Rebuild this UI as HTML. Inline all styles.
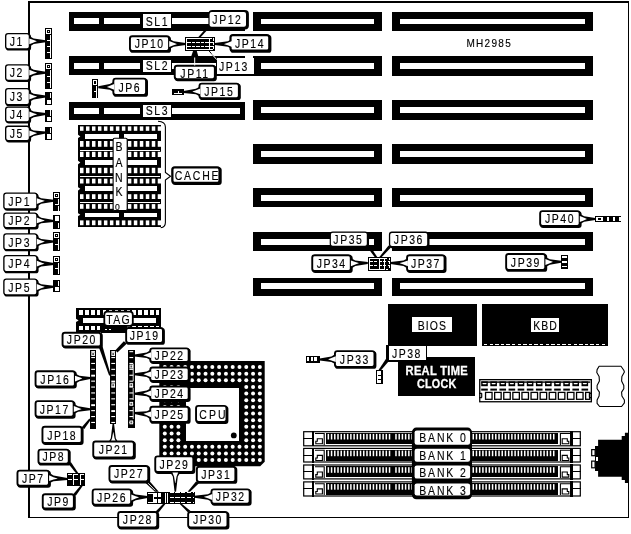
<!DOCTYPE html>
<html><head><meta charset="utf-8"><title>MH2985</title>
<style>
html,body{margin:0;padding:0;background:#fff;}
body{width:631px;height:534px;overflow:hidden;}
svg{display:block;font-family:"Liberation Sans",sans-serif;filter:grayscale(1);}
svg rect{shape-rendering:crispEdges;}
svg .aa{shape-rendering:geometricPrecision;}

</style></head><body>
<svg width="631" height="534" viewBox="0 0 631 534">
<rect x="0" y="0" width="631" height="534" fill="#fff"/>
<rect x="28.3" y="1.3" width="1.5" height="516.7" fill="#000" />
<rect x="28.3" y="1.3" width="600.3" height="1.4" fill="#000" />
<rect x="627.6" y="1.3" width="1.1" height="516.7" fill="#000" />
<rect x="28.3" y="516.6" width="600.4" height="1.5" fill="#000" />
<rect x="253.3" y="11.9" width="128.7" height="18.799999999999997" fill="#000" />
<rect x="260.6" y="18.8" width="113.5" height="5.399999999999999" fill="#fff" />
<rect x="392" y="11.9" width="201" height="18.799999999999997" fill="#000" />
<rect x="400" y="18.8" width="185" height="5.399999999999999" fill="#fff" />
<rect x="253.3" y="56" width="128.7" height="19.799999999999997" fill="#000" />
<rect x="260.6" y="62.9" width="113.5" height="6.399999999999999" fill="#fff" />
<rect x="392" y="56" width="201" height="19.799999999999997" fill="#000" />
<rect x="400" y="62.9" width="185" height="6.399999999999999" fill="#fff" />
<rect x="253.3" y="100.1" width="128.7" height="19.700000000000003" fill="#000" />
<rect x="260.6" y="106.8" width="113.5" height="6.200000000000003" fill="#fff" />
<rect x="392" y="100.1" width="201" height="19.700000000000003" fill="#000" />
<rect x="400" y="106.8" width="185" height="6.200000000000003" fill="#fff" />
<rect x="253.3" y="144.1" width="128.7" height="19.599999999999994" fill="#000" />
<rect x="260.6" y="150.5" width="113.5" height="6.400000000000006" fill="#fff" />
<rect x="392" y="144.1" width="201" height="19.599999999999994" fill="#000" />
<rect x="400" y="150.5" width="185" height="6.400000000000006" fill="#fff" />
<rect x="253.3" y="188" width="128.7" height="18.80000000000001" fill="#000" />
<rect x="260.6" y="195.1" width="113.5" height="5.599999999999994" fill="#fff" />
<rect x="392" y="188" width="201" height="18.80000000000001" fill="#000" />
<rect x="400" y="195.1" width="185" height="5.599999999999994" fill="#fff" />
<rect x="253.3" y="232.1" width="128.7" height="19.30000000000001" fill="#000" />
<rect x="260.6" y="238.9" width="113.5" height="6.400000000000006" fill="#fff" />
<rect x="392" y="232.1" width="201" height="19.30000000000001" fill="#000" />
<rect x="400" y="238.9" width="185" height="6.400000000000006" fill="#fff" />
<rect x="253.3" y="277.5" width="128.7" height="18.19999999999999" fill="#000" />
<rect x="260.6" y="283.1" width="113.5" height="6.199999999999989" fill="#fff" />
<rect x="392" y="277.5" width="201" height="18.19999999999999" fill="#000" />
<rect x="400" y="283.1" width="185" height="6.199999999999989" fill="#fff" />
<rect x="69.1" y="12.2" width="175.8" height="18.6" fill="#000" />
<rect x="74" y="18.1" width="25" height="6.0" fill="#fff" />
<rect x="103.8" y="18.1" width="36.6" height="6.0" fill="#fff" />
<rect x="172" y="18.1" width="68.2" height="6.0" fill="#fff" />
<rect x="142.8" y="14.2" width="28" height="13.600000000000001" fill="#fff" />
<text transform="translate(157.37,25.50) scale(0.77,1)" font-size="13.6" text-anchor="middle" letter-spacing="2.0" fill="#000" stroke="#000" stroke-width="0.15" font-weight="normal">SL1</text>
<rect x="69.1" y="56.3" width="175.8" height="18.400000000000006" fill="#000" />
<rect x="74" y="63.1" width="25" height="5.899999999999999" fill="#fff" />
<rect x="103.8" y="63.1" width="36.6" height="5.899999999999999" fill="#fff" />
<rect x="172" y="63.1" width="68.2" height="5.899999999999999" fill="#fff" />
<rect x="142.8" y="59.5" width="28" height="12.400000000000006" fill="#fff" />
<text transform="translate(157.37,70.30) scale(0.77,1)" font-size="13.6" text-anchor="middle" letter-spacing="2.0" fill="#000" stroke="#000" stroke-width="0.15" font-weight="normal">SL2</text>
<rect x="69.1" y="102" width="175.8" height="18.400000000000006" fill="#000" />
<rect x="74" y="108.1" width="25" height="6.0" fill="#fff" />
<rect x="103.8" y="108.1" width="36.6" height="6.0" fill="#fff" />
<rect x="172" y="108.1" width="68.2" height="6.0" fill="#fff" />
<rect x="142.8" y="104.5" width="28" height="12.700000000000003" fill="#fff" />
<text transform="translate(157.37,114.80) scale(0.77,1)" font-size="13.6" text-anchor="middle" letter-spacing="2.0" fill="#000" stroke="#000" stroke-width="0.15" font-weight="normal">SL3</text>
<text transform="translate(489.24,46.90) scale(0.85,1)" font-size="11.8" text-anchor="middle" letter-spacing="1.5" fill="#000" stroke="#000" stroke-width="0.15" font-weight="normal">MH2985</text>
<rect class="aa" x="6" y="34" width="25.1" height="16.6" rx="2.9" fill="#000"/>
<rect class="aa" x="5.675" y="33.675" width="23.75" height="15.250000000000002" rx="2.4" fill="#fff" stroke="#000" stroke-width="1.35"/>
<text transform="translate(16.82,46.06) scale(0.77,1)" font-size="13.6" text-anchor="middle" letter-spacing="2.0" fill="#000" stroke="#000" stroke-width="0.15" font-weight="normal">J1</text>
<polygon class="aa" fill="#000" points="30.50,36.70 33.70,38.48 45.70,40.20 45.70,42.20 33.70,44.08 30.50,45.90"/>
<polygon class="aa" fill="#fff" points="29.30,38.40 33.70,40.08 36.88,41.16 36.88,41.36 33.70,42.48 29.30,44.20"/>
<rect x="45.2" y="28" width="6.6" height="30.6" fill="#000" />
<rect x="46.2" y="29.0" width="4.6" height="4.62" fill="#fff" />
<rect x="47.2" y="30.0" width="2.5999999999999996" height="2.62" fill="#000" />
<rect x="48.2" y="31.0" width="0.5999999999999996" height="0.6200000000000001" fill="#fff" />
<rect x="49.6" y="34.919999999999995" width="1.2" height="4.92" fill="#fff" />
<rect x="47.2" y="39.739999999999995" width="3.3999999999999995" height="1.0" fill="#fff" />
<rect x="49.6" y="41.04" width="1.2" height="4.92" fill="#fff" />
<rect x="47.2" y="45.86" width="3.3999999999999995" height="1.0" fill="#fff" />
<rect x="49.6" y="47.16" width="1.2" height="4.92" fill="#fff" />
<rect x="47.2" y="51.98" width="3.3999999999999995" height="1.0" fill="#fff" />
<rect x="49.6" y="53.28" width="1.2" height="4.92" fill="#fff" />
<rect class="aa" x="6" y="65.2" width="25.1" height="16.799999999999997" rx="2.9" fill="#000"/>
<rect class="aa" x="5.675" y="64.875" width="23.75" height="15.449999999999998" rx="2.4" fill="#fff" stroke="#000" stroke-width="1.35"/>
<text transform="translate(16.82,77.36) scale(0.77,1)" font-size="13.6" text-anchor="middle" letter-spacing="2.0" fill="#000" stroke="#000" stroke-width="0.15" font-weight="normal">J2</text>
<polygon class="aa" fill="#000" points="30.50,68.00 33.70,69.84 45.70,71.80 45.70,73.80 33.70,75.44 30.50,77.20"/>
<polygon class="aa" fill="#fff" points="29.30,69.70 33.70,71.44 36.88,72.58 36.88,72.78 33.70,73.84 29.30,75.50"/>
<rect x="45.2" y="63.3" width="6.6" height="25.400000000000006" fill="#000" />
<rect x="46.2" y="64.3" width="4.6" height="4.850000000000001" fill="#fff" />
<rect x="47.2" y="65.3" width="2.5999999999999996" height="2.8500000000000014" fill="#000" />
<rect x="48.2" y="66.3" width="0.5999999999999996" height="0.8500000000000014" fill="#fff" />
<rect x="49.6" y="70.45" width="1.2" height="5.150000000000001" fill="#fff" />
<rect x="47.2" y="75.5" width="3.3999999999999995" height="1.0" fill="#fff" />
<rect x="49.6" y="76.8" width="1.2" height="5.150000000000001" fill="#fff" />
<rect x="47.2" y="81.85" width="3.3999999999999995" height="1.0" fill="#fff" />
<rect x="49.6" y="83.14999999999999" width="1.2" height="5.150000000000001" fill="#fff" />
<rect class="aa" x="6" y="89" width="25.1" height="17.299999999999997" rx="2.9" fill="#000"/>
<rect class="aa" x="5.675" y="88.675" width="23.75" height="15.949999999999998" rx="2.4" fill="#fff" stroke="#000" stroke-width="1.35"/>
<text transform="translate(16.82,101.41) scale(0.77,1)" font-size="13.6" text-anchor="middle" letter-spacing="2.0" fill="#000" stroke="#000" stroke-width="0.15" font-weight="normal">J3</text>
<polygon class="aa" fill="#000" points="30.50,92.05 33.70,93.84 45.70,95.60 45.70,97.60 33.70,99.44 30.50,101.25"/>
<polygon class="aa" fill="#fff" points="29.30,93.75 33.70,95.44 36.88,96.53 36.88,96.73 33.70,97.84 29.30,99.55"/>
<rect x="45.2" y="92.4" width="6.6" height="12.699999999999989" fill="#000" />
<rect x="49.6" y="93.2" width="1.2" height="5.149999999999994" fill="#fff" />
<rect x="47.2" y="99.75" width="3.5999999999999996" height="4.349999999999994" fill="#fff" />
<rect class="aa" x="6" y="107.5" width="25.1" height="16.0" rx="2.9" fill="#000"/>
<rect class="aa" x="5.675" y="107.175" width="23.75" height="14.65" rx="2.4" fill="#fff" stroke="#000" stroke-width="1.35"/>
<text transform="translate(16.82,119.26) scale(0.77,1)" font-size="13.6" text-anchor="middle" letter-spacing="2.0" fill="#000" stroke="#000" stroke-width="0.15" font-weight="normal">J4</text>
<polygon class="aa" fill="#000" points="30.50,109.90 33.70,111.62 45.70,113.10 45.70,115.10 33.70,117.22 30.50,119.10"/>
<polygon class="aa" fill="#fff" points="29.30,111.60 33.70,113.22 36.88,114.23 36.88,114.43 33.70,115.62 29.30,117.40"/>
<rect x="45.2" y="109.6" width="6.6" height="12.700000000000003" fill="#000" />
<rect x="49.6" y="110.39999999999999" width="1.2" height="5.150000000000001" fill="#fff" />
<rect x="47.2" y="116.94999999999999" width="3.5999999999999996" height="4.350000000000001" fill="#fff" />
<rect class="aa" x="6" y="126.6" width="25.1" height="15.800000000000011" rx="2.9" fill="#000"/>
<rect class="aa" x="5.675" y="126.27499999999999" width="23.75" height="14.450000000000012" rx="2.4" fill="#fff" stroke="#000" stroke-width="1.35"/>
<text transform="translate(16.82,138.26) scale(0.77,1)" font-size="13.6" text-anchor="middle" letter-spacing="2.0" fill="#000" stroke="#000" stroke-width="0.15" font-weight="normal">J5</text>
<polygon class="aa" fill="#000" points="30.50,128.90 33.70,130.49 45.70,131.50 45.70,133.50 33.70,136.09 30.50,138.10"/>
<polygon class="aa" fill="#fff" points="29.30,130.60 33.70,132.09 36.88,132.98 36.88,133.18 33.70,134.49 29.30,136.40"/>
<rect x="45.2" y="127.1" width="6.6" height="12.400000000000006" fill="#000" />
<rect x="49.6" y="127.89999999999999" width="1.2" height="5.000000000000003" fill="#fff" />
<rect x="47.2" y="134.3" width="3.5999999999999996" height="4.200000000000003" fill="#fff" />
<rect class="aa" x="4.2" y="193.4" width="34.4" height="17.299999999999983" rx="2.9" fill="#000"/>
<rect class="aa" x="3.875" y="193.07500000000002" width="33.05" height="15.949999999999983" rx="2.4" fill="#fff" stroke="#000" stroke-width="1.35"/>
<text transform="translate(19.67,205.81) scale(0.77,1)" font-size="13.6" text-anchor="middle" letter-spacing="2.0" fill="#000" stroke="#000" stroke-width="0.15" font-weight="normal">JP1</text>
<polygon class="aa" fill="#000" points="38.00,196.45 41.20,198.18 53.70,199.70 53.70,201.70 41.20,203.78 38.00,205.65"/>
<polygon class="aa" fill="#fff" points="36.80,198.15 41.20,199.78 44.59,200.80 44.59,201.00 41.20,202.18 36.80,203.95"/>
<rect x="53.2" y="192.3" width="6.6" height="18.599999999999994" fill="#000" />
<rect x="54.2" y="193.3" width="4.6" height="4.699999999999998" fill="#fff" />
<rect x="55.2" y="194.3" width="2.5999999999999996" height="2.6999999999999984" fill="#000" />
<rect x="56.2" y="195.3" width="0.5999999999999996" height="0.6999999999999984" fill="#fff" />
<rect x="57.6" y="199.3" width="1.2" height="4.999999999999998" fill="#fff" />
<rect x="55.2" y="204.2" width="3.3999999999999995" height="1.0" fill="#fff" />
<rect x="57.6" y="205.50000000000003" width="1.2" height="4.999999999999998" fill="#fff" />
<rect class="aa" x="4.2" y="213.4" width="34.4" height="16.0" rx="2.9" fill="#000"/>
<rect class="aa" x="3.875" y="213.07500000000002" width="33.05" height="14.65" rx="2.4" fill="#fff" stroke="#000" stroke-width="1.35"/>
<text transform="translate(19.67,225.16) scale(0.77,1)" font-size="13.6" text-anchor="middle" letter-spacing="2.0" fill="#000" stroke="#000" stroke-width="0.15" font-weight="normal">JP2</text>
<polygon class="aa" fill="#000" points="38.00,215.80 41.20,217.72 53.70,220.00 53.70,222.00 41.20,223.32 38.00,225.00"/>
<polygon class="aa" fill="#fff" points="36.80,217.50 41.20,219.32 44.59,220.55 44.59,220.75 41.20,221.72 36.80,223.30"/>
<rect x="53.2" y="215.2" width="6.6" height="13.5" fill="#000" />
<rect x="55.2" y="216.2" width="3.5999999999999996" height="4.75" fill="#fff" />
<rect x="57.6" y="222.75" width="1.2" height="5.55" fill="#fff" />
<rect class="aa" x="4.2" y="234.2" width="34.4" height="17.100000000000023" rx="2.9" fill="#000"/>
<rect class="aa" x="3.875" y="233.875" width="33.05" height="15.750000000000023" rx="2.4" fill="#fff" stroke="#000" stroke-width="1.35"/>
<text transform="translate(19.67,246.51) scale(0.77,1)" font-size="13.6" text-anchor="middle" letter-spacing="2.0" fill="#000" stroke="#000" stroke-width="0.15" font-weight="normal">JP3</text>
<polygon class="aa" fill="#000" points="38.00,237.15 41.20,238.88 53.70,240.40 53.70,242.40 41.20,244.48 38.00,246.35"/>
<polygon class="aa" fill="#fff" points="36.80,238.85 41.20,240.48 44.59,241.50 44.59,241.70 41.20,242.88 36.80,244.65"/>
<rect x="53.2" y="232.4" width="6.6" height="18.099999999999994" fill="#000" />
<rect x="54.2" y="233.4" width="4.6" height="4.533333333333331" fill="#fff" />
<rect x="55.2" y="234.4" width="2.5999999999999996" height="2.5333333333333314" fill="#000" />
<rect x="56.2" y="235.4" width="0.5999999999999996" height="0.5333333333333314" fill="#fff" />
<rect x="57.6" y="239.23333333333335" width="1.2" height="4.833333333333331" fill="#fff" />
<rect x="55.2" y="243.96666666666667" width="3.3999999999999995" height="1.0" fill="#fff" />
<rect x="57.6" y="245.26666666666668" width="1.2" height="4.833333333333331" fill="#fff" />
<rect class="aa" x="4.2" y="255.9" width="34.4" height="17.400000000000006" rx="2.9" fill="#000"/>
<rect class="aa" x="3.875" y="255.57500000000002" width="33.05" height="16.050000000000004" rx="2.4" fill="#fff" stroke="#000" stroke-width="1.35"/>
<text transform="translate(19.67,268.36) scale(0.77,1)" font-size="13.6" text-anchor="middle" letter-spacing="2.0" fill="#000" stroke="#000" stroke-width="0.15" font-weight="normal">JP4</text>
<polygon class="aa" fill="#000" points="38.00,259.00 41.20,260.86 53.70,262.90 53.70,264.90 41.20,266.46 38.00,268.20"/>
<polygon class="aa" fill="#fff" points="36.80,260.70 41.20,262.46 44.59,263.63 44.59,263.83 41.20,264.86 36.80,266.50"/>
<rect x="53.2" y="256.2" width="6.6" height="18.400000000000034" fill="#000" />
<rect x="54.2" y="257.2" width="4.6" height="4.633333333333344" fill="#fff" />
<rect x="55.2" y="258.2" width="2.5999999999999996" height="2.6333333333333444" fill="#000" />
<rect x="56.2" y="259.2" width="0.5999999999999996" height="0.6333333333333444" fill="#fff" />
<rect x="57.6" y="263.1333333333333" width="1.2" height="4.933333333333344" fill="#fff" />
<rect x="55.2" y="267.96666666666664" width="3.3999999999999995" height="1.0" fill="#fff" />
<rect x="57.6" y="269.2666666666667" width="1.2" height="4.933333333333344" fill="#fff" />
<rect class="aa" x="4.2" y="279.4" width="34.4" height="17.200000000000045" rx="2.9" fill="#000"/>
<rect class="aa" x="3.875" y="279.075" width="33.05" height="15.850000000000046" rx="2.4" fill="#fff" stroke="#000" stroke-width="1.35"/>
<text transform="translate(19.67,291.76) scale(0.77,1)" font-size="13.6" text-anchor="middle" letter-spacing="2.0" fill="#000" stroke="#000" stroke-width="0.15" font-weight="normal">JP5</text>
<polygon class="aa" fill="#000" points="38.00,282.40 41.20,284.16 53.70,285.80 53.70,287.80 41.20,289.76 38.00,291.60"/>
<polygon class="aa" fill="#fff" points="36.80,284.10 41.20,285.76 44.59,286.82 44.59,287.02 41.20,288.16 36.80,289.90"/>
<rect x="53.2" y="280" width="6.6" height="12.399999999999977" fill="#000" />
<rect x="57.6" y="280.8" width="1.2" height="4.9999999999999885" fill="#fff" />
<rect x="55.2" y="287.2" width="3.5999999999999996" height="4.199999999999989" fill="#fff" />
<rect class="aa" x="113.4" y="78.7" width="34.599999999999994" height="18.099999999999994" rx="2.9" fill="#000"/>
<rect class="aa" x="113.35000000000001" y="78.65" width="32.699999999999996" height="16.199999999999996" rx="2.4" fill="#fff" stroke="#000" stroke-width="1.9"/>
<text transform="translate(129.87,91.51) scale(0.77,1)" font-size="13.6" text-anchor="middle" letter-spacing="2.0" fill="#000" stroke="#000" stroke-width="0.15" font-weight="normal">JP6</text>
<polygon class="aa" fill="#000" points="113.00,82.20 109.80,84.11 98.30,86.30 98.30,88.30 109.80,89.71 113.00,91.40"/>
<polygon class="aa" fill="#fff" points="114.20,83.90 109.80,85.71 106.83,86.91 106.83,87.11 109.80,88.11 114.20,89.70"/>
<rect x="92" y="79" width="6.2" height="18.900000000000006" fill="#000" />
<rect x="93" y="80.0" width="4.2" height="4.800000000000002" fill="#fff" />
<rect x="94" y="81.0" width="2.2" height="2.8000000000000016" fill="#000" />
<rect x="95" y="82.0" width="0.20000000000000018" height="0.8000000000000016" fill="#fff" />
<rect x="96.0" y="86.1" width="1.2" height="5.100000000000001" fill="#fff" />
<rect x="94" y="91.1" width="3.0" height="1.0" fill="#fff" />
<rect x="96.0" y="92.4" width="1.2" height="5.100000000000001" fill="#fff" />
<polygon class="aa" fill="#000"  points="208.00,26.00 211.00,26.00 200.60,37.30 198.20,37.30"/>
<line x1="208.5" y1="50.3" x2="217.5" y2="60.5" stroke="#000" stroke-width="1.0" class="aa"/>
<polygon class="aa" fill="#000"  points="193.30,50.30 196.60,50.30 198.50,57.00 191.00,57.00"/>
<rect x="185.4" y="37.1" width="29.599999999999994" height="13.5" fill="#000" />
<rect x="186.9" y="38.6" width="22.099999999999994" height="10.5" fill="none" stroke="#fff" stroke-width="1"/>
<line x1="187.4" y1="42.0" x2="214" y2="42.0" stroke="#fff" stroke-width="1" stroke-dasharray="3.2,1.3" shape-rendering="crispEdges"/>
<line x1="187.4" y1="46.1" x2="214" y2="46.1" stroke="#fff" stroke-width="1" stroke-dasharray="3.2,1.3" shape-rendering="crispEdges"/>
<path d="M209,38.6 H213.5 V49.1 H209" fill="none" stroke="#fff" stroke-width="1" stroke-dasharray="2.5,1.5" shape-rendering="crispEdges"/>
<rect class="aa" x="130" y="36.3" width="41" height="16.5" rx="2.9" fill="#000"/>
<rect class="aa" x="129.95" y="36.25" width="39.1" height="14.6" rx="2.4" fill="#fff" stroke="#000" stroke-width="1.9"/>
<text transform="translate(149.67,48.31) scale(0.77,1)" font-size="13.6" text-anchor="middle" letter-spacing="2.0" fill="#000" stroke="#000" stroke-width="0.15" font-weight="normal">JP10</text>
<polygon class="aa" fill="#000" points="170.40,39.40 173.60,41.22 185.60,43.10 185.60,45.10 173.60,46.82 170.40,48.60"/>
<polygon class="aa" fill="#fff" points="169.20,41.10 173.60,42.82 176.78,43.94 176.78,44.14 173.60,45.22 169.20,46.90"/>
<rect class="aa" x="230.4" y="35" width="40.99999999999997" height="17.799999999999997" rx="2.9" fill="#000"/>
<rect class="aa" x="230.5" y="35.1" width="38.79999999999997" height="15.599999999999998" rx="2.4" fill="#fff" stroke="#000" stroke-width="2.2"/>
<text transform="translate(250.07,47.66) scale(0.77,1)" font-size="13.6" text-anchor="middle" letter-spacing="2.0" fill="#000" stroke="#000" stroke-width="0.15" font-weight="normal">JP14</text>
<polygon class="aa" fill="#000" points="231.00,39.40 227.80,41.22 214.80,43.10 214.80,45.10 227.80,46.82 231.00,48.60"/>
<polygon class="aa" fill="#fff" points="232.20,41.10 227.80,42.82 224.20,43.94 224.20,44.14 227.80,45.22 232.20,46.90"/>
<rect class="aa" x="208.4" y="10.1" width="40.5" height="19.4" rx="4" fill="#000"/>
<rect class="aa" x="209.6" y="12" width="36.4" height="14.7" rx="2" fill="#fff"/>
<text transform="translate(227.37,24.00) scale(0.77,1)" font-size="13.6" text-anchor="middle" letter-spacing="2.0" fill="#000" stroke="#000" stroke-width="0.15" font-weight="normal">JP12</text>
<rect x="216" y="57.8" width="38" height="18.2" fill="#000" />
<rect x="217" y="57.8" width="37" height="16" fill="#fff" />
<text transform="translate(233.97,71.20) scale(0.77,1)" font-size="13.6" text-anchor="middle" letter-spacing="2.0" fill="#000" stroke="#000" stroke-width="0.15" font-weight="normal">JP13</text>
<line x1="211.5" y1="53.7" x2="216.8" y2="59.7" stroke="#fff" stroke-width="1.0" class="aa"/>
<rect class="aa" x="174.8" y="65.8" width="42.0" height="15.400000000000006" rx="2.9" fill="#000"/>
<rect class="aa" x="174.75" y="65.75" width="40.1" height="13.500000000000005" rx="2.4" fill="#fff" stroke="#000" stroke-width="1.9"/>
<text transform="translate(194.97,78.30) scale(0.77,1)" font-size="13.6" text-anchor="middle" letter-spacing="2.0" fill="#000" stroke="#000" stroke-width="0.15" font-weight="normal">JP11</text>
<line x1="194.7" y1="57.5" x2="194.7" y2="65.5" stroke="#fff" stroke-width="1.0" class=""/>
<rect class="aa" x="199.5" y="83.7" width="41.30000000000001" height="16.39999999999999" rx="2.9" fill="#000"/>
<rect class="aa" x="199.45" y="83.65" width="39.40000000000001" height="14.499999999999991" rx="2.4" fill="#fff" stroke="#000" stroke-width="1.9"/>
<text transform="translate(219.32,95.66) scale(0.77,1)" font-size="13.6" text-anchor="middle" letter-spacing="2.0" fill="#000" stroke="#000" stroke-width="0.15" font-weight="normal">JP15</text>
<polygon class="aa" fill="#000" points="199.10,86.90 195.90,88.72 183.50,91.00 183.50,93.00 195.90,94.32 199.10,95.90"/>
<polygon class="aa" fill="#fff" points="200.30,88.60 195.90,90.32 192.55,91.55 192.55,91.75 195.90,92.72 200.30,94.20"/>
<rect x="172" y="89" width="11.8" height="6.2" fill="#000" />
<rect x="174" y="93.2" width="8" height="1" fill="#fff" />
<rect x="178" y="90.5" width="1" height="2.8" fill="#fff" />
<rect x="78" y="124.8" width="83.19999999999999" height="101.89999999999999" fill="#000" />
<rect class="aa" x="80.00" y="126.4" width="3.5" height="4.4" fill="#fff"/>
<rect class="aa" x="85.98" y="126.4" width="3.5" height="4.4" fill="#fff"/>
<rect class="aa" x="91.96" y="126.4" width="3.5" height="4.4" fill="#fff"/>
<rect class="aa" x="97.94" y="126.4" width="3.5" height="4.4" fill="#fff"/>
<rect class="aa" x="103.92" y="126.4" width="3.5" height="4.4" fill="#fff"/>
<rect class="aa" x="109.90" y="126.4" width="3.5" height="4.4" fill="#fff"/>
<rect class="aa" x="115.88" y="126.4" width="3.5" height="4.4" fill="#fff"/>
<rect class="aa" x="121.86" y="126.4" width="3.5" height="4.4" fill="#fff"/>
<rect class="aa" x="127.84" y="126.4" width="3.5" height="4.4" fill="#fff"/>
<rect class="aa" x="133.82" y="126.4" width="3.5" height="4.4" fill="#fff"/>
<rect class="aa" x="139.80" y="126.4" width="3.5" height="4.4" fill="#fff"/>
<rect class="aa" x="145.78" y="126.4" width="3.5" height="4.4" fill="#fff"/>
<rect class="aa" x="151.76" y="126.4" width="3.5" height="4.4" fill="#fff"/>
<rect class="aa" x="157.74" y="126.4" width="3.5" height="4.4" fill="#fff"/>
<rect class="aa" x="80.00" y="141" width="3.5" height="5.8" fill="#fff"/>
<rect class="aa" x="85.98" y="141" width="3.5" height="5.8" fill="#fff"/>
<rect class="aa" x="91.96" y="141" width="3.5" height="5.8" fill="#fff"/>
<rect class="aa" x="97.94" y="141" width="3.5" height="5.8" fill="#fff"/>
<rect class="aa" x="103.92" y="141" width="3.5" height="5.8" fill="#fff"/>
<rect class="aa" x="109.90" y="141" width="3.5" height="5.8" fill="#fff"/>
<rect class="aa" x="115.88" y="141" width="3.5" height="5.8" fill="#fff"/>
<rect class="aa" x="121.86" y="141" width="3.5" height="5.8" fill="#fff"/>
<rect class="aa" x="127.84" y="141" width="3.5" height="5.8" fill="#fff"/>
<rect class="aa" x="133.82" y="141" width="3.5" height="5.8" fill="#fff"/>
<rect class="aa" x="139.80" y="141" width="3.5" height="5.8" fill="#fff"/>
<rect class="aa" x="145.78" y="141" width="3.5" height="5.8" fill="#fff"/>
<rect class="aa" x="151.76" y="141" width="3.5" height="5.8" fill="#fff"/>
<rect class="aa" x="157.74" y="141" width="3.5" height="5.8" fill="#fff"/>
<rect x="84.7" y="134" width="72.49999999999999" height="4.8" fill="#fff" />
<rect x="119" y="134" width="4.6" height="4.8" fill="#000" />
<polygon class="aa" fill="#fff"  points="77.80,134.60 80.30,136.40 77.80,138.20"/>
<rect x="79.5" y="149.5" width="80.19999999999999" height="1" fill="#fff" />
<rect class="aa" x="80.00" y="151.8" width="3.5" height="5.2" fill="#fff"/>
<rect class="aa" x="85.98" y="151.8" width="3.5" height="5.2" fill="#fff"/>
<rect class="aa" x="91.96" y="151.8" width="3.5" height="5.2" fill="#fff"/>
<rect class="aa" x="97.94" y="151.8" width="3.5" height="5.2" fill="#fff"/>
<rect class="aa" x="103.92" y="151.8" width="3.5" height="5.2" fill="#fff"/>
<rect class="aa" x="109.90" y="151.8" width="3.5" height="5.2" fill="#fff"/>
<rect class="aa" x="115.88" y="151.8" width="3.5" height="5.2" fill="#fff"/>
<rect class="aa" x="121.86" y="151.8" width="3.5" height="5.2" fill="#fff"/>
<rect class="aa" x="127.84" y="151.8" width="3.5" height="5.2" fill="#fff"/>
<rect class="aa" x="133.82" y="151.8" width="3.5" height="5.2" fill="#fff"/>
<rect class="aa" x="139.80" y="151.8" width="3.5" height="5.2" fill="#fff"/>
<rect class="aa" x="145.78" y="151.8" width="3.5" height="5.2" fill="#fff"/>
<rect class="aa" x="151.76" y="151.8" width="3.5" height="5.2" fill="#fff"/>
<rect class="aa" x="157.74" y="151.8" width="3.5" height="5.2" fill="#fff"/>
<rect class="aa" x="80.00" y="167.8" width="3.5" height="5.4" fill="#fff"/>
<rect class="aa" x="85.98" y="167.8" width="3.5" height="5.4" fill="#fff"/>
<rect class="aa" x="91.96" y="167.8" width="3.5" height="5.4" fill="#fff"/>
<rect class="aa" x="97.94" y="167.8" width="3.5" height="5.4" fill="#fff"/>
<rect class="aa" x="103.92" y="167.8" width="3.5" height="5.4" fill="#fff"/>
<rect class="aa" x="109.90" y="167.8" width="3.5" height="5.4" fill="#fff"/>
<rect class="aa" x="115.88" y="167.8" width="3.5" height="5.4" fill="#fff"/>
<rect class="aa" x="121.86" y="167.8" width="3.5" height="5.4" fill="#fff"/>
<rect class="aa" x="127.84" y="167.8" width="3.5" height="5.4" fill="#fff"/>
<rect class="aa" x="133.82" y="167.8" width="3.5" height="5.4" fill="#fff"/>
<rect class="aa" x="139.80" y="167.8" width="3.5" height="5.4" fill="#fff"/>
<rect class="aa" x="145.78" y="167.8" width="3.5" height="5.4" fill="#fff"/>
<rect class="aa" x="151.76" y="167.8" width="3.5" height="5.4" fill="#fff"/>
<rect class="aa" x="157.74" y="167.8" width="3.5" height="5.4" fill="#fff"/>
<rect x="84.7" y="160" width="72.49999999999999" height="5" fill="#fff" />
<rect x="119" y="160" width="4.6" height="5" fill="#000" />
<polygon class="aa" fill="#fff"  points="77.80,160.60 80.30,162.50 77.80,164.40"/>
<rect x="79.5" y="176.0" width="80.19999999999999" height="1" fill="#fff" />
<rect class="aa" x="80.00" y="178.7" width="3.5" height="4.8" fill="#fff"/>
<rect class="aa" x="85.98" y="178.7" width="3.5" height="4.8" fill="#fff"/>
<rect class="aa" x="91.96" y="178.7" width="3.5" height="4.8" fill="#fff"/>
<rect class="aa" x="97.94" y="178.7" width="3.5" height="4.8" fill="#fff"/>
<rect class="aa" x="103.92" y="178.7" width="3.5" height="4.8" fill="#fff"/>
<rect class="aa" x="109.90" y="178.7" width="3.5" height="4.8" fill="#fff"/>
<rect class="aa" x="115.88" y="178.7" width="3.5" height="4.8" fill="#fff"/>
<rect class="aa" x="121.86" y="178.7" width="3.5" height="4.8" fill="#fff"/>
<rect class="aa" x="127.84" y="178.7" width="3.5" height="4.8" fill="#fff"/>
<rect class="aa" x="133.82" y="178.7" width="3.5" height="4.8" fill="#fff"/>
<rect class="aa" x="139.80" y="178.7" width="3.5" height="4.8" fill="#fff"/>
<rect class="aa" x="145.78" y="178.7" width="3.5" height="4.8" fill="#fff"/>
<rect class="aa" x="151.76" y="178.7" width="3.5" height="4.8" fill="#fff"/>
<rect class="aa" x="157.74" y="178.7" width="3.5" height="4.8" fill="#fff"/>
<rect class="aa" x="80.00" y="194.2" width="3.5" height="4.8" fill="#fff"/>
<rect class="aa" x="85.98" y="194.2" width="3.5" height="4.8" fill="#fff"/>
<rect class="aa" x="91.96" y="194.2" width="3.5" height="4.8" fill="#fff"/>
<rect class="aa" x="97.94" y="194.2" width="3.5" height="4.8" fill="#fff"/>
<rect class="aa" x="103.92" y="194.2" width="3.5" height="4.8" fill="#fff"/>
<rect class="aa" x="109.90" y="194.2" width="3.5" height="4.8" fill="#fff"/>
<rect class="aa" x="115.88" y="194.2" width="3.5" height="4.8" fill="#fff"/>
<rect class="aa" x="121.86" y="194.2" width="3.5" height="4.8" fill="#fff"/>
<rect class="aa" x="127.84" y="194.2" width="3.5" height="4.8" fill="#fff"/>
<rect class="aa" x="133.82" y="194.2" width="3.5" height="4.8" fill="#fff"/>
<rect class="aa" x="139.80" y="194.2" width="3.5" height="4.8" fill="#fff"/>
<rect class="aa" x="145.78" y="194.2" width="3.5" height="4.8" fill="#fff"/>
<rect class="aa" x="151.76" y="194.2" width="3.5" height="4.8" fill="#fff"/>
<rect class="aa" x="157.74" y="194.2" width="3.5" height="4.8" fill="#fff"/>
<rect x="84.7" y="186.3" width="72.49999999999999" height="5.0" fill="#fff" />
<rect x="119" y="186.3" width="4.6" height="5.0" fill="#000" />
<polygon class="aa" fill="#fff"  points="77.80,186.90 80.30,188.80 77.80,190.70"/>
<rect x="79.5" y="201.7" width="80.19999999999999" height="1" fill="#fff" />
<rect class="aa" x="80.00" y="204.1" width="3.5" height="4.7" fill="#fff"/>
<rect class="aa" x="85.98" y="204.1" width="3.5" height="4.7" fill="#fff"/>
<rect class="aa" x="91.96" y="204.1" width="3.5" height="4.7" fill="#fff"/>
<rect class="aa" x="97.94" y="204.1" width="3.5" height="4.7" fill="#fff"/>
<rect class="aa" x="103.92" y="204.1" width="3.5" height="4.7" fill="#fff"/>
<rect class="aa" x="109.90" y="204.1" width="3.5" height="4.7" fill="#fff"/>
<rect class="aa" x="115.88" y="204.1" width="3.5" height="4.7" fill="#fff"/>
<rect class="aa" x="121.86" y="204.1" width="3.5" height="4.7" fill="#fff"/>
<rect class="aa" x="127.84" y="204.1" width="3.5" height="4.7" fill="#fff"/>
<rect class="aa" x="133.82" y="204.1" width="3.5" height="4.7" fill="#fff"/>
<rect class="aa" x="139.80" y="204.1" width="3.5" height="4.7" fill="#fff"/>
<rect class="aa" x="145.78" y="204.1" width="3.5" height="4.7" fill="#fff"/>
<rect class="aa" x="151.76" y="204.1" width="3.5" height="4.7" fill="#fff"/>
<rect class="aa" x="157.74" y="204.1" width="3.5" height="4.7" fill="#fff"/>
<rect class="aa" x="80.00" y="220.4" width="3.5" height="4.8" fill="#fff"/>
<rect class="aa" x="85.98" y="220.4" width="3.5" height="4.8" fill="#fff"/>
<rect class="aa" x="91.96" y="220.4" width="3.5" height="4.8" fill="#fff"/>
<rect class="aa" x="97.94" y="220.4" width="3.5" height="4.8" fill="#fff"/>
<rect class="aa" x="103.92" y="220.4" width="3.5" height="4.8" fill="#fff"/>
<rect class="aa" x="109.90" y="220.4" width="3.5" height="4.8" fill="#fff"/>
<rect class="aa" x="115.88" y="220.4" width="3.5" height="4.8" fill="#fff"/>
<rect class="aa" x="121.86" y="220.4" width="3.5" height="4.8" fill="#fff"/>
<rect class="aa" x="127.84" y="220.4" width="3.5" height="4.8" fill="#fff"/>
<rect class="aa" x="133.82" y="220.4" width="3.5" height="4.8" fill="#fff"/>
<rect class="aa" x="139.80" y="220.4" width="3.5" height="4.8" fill="#fff"/>
<rect class="aa" x="145.78" y="220.4" width="3.5" height="4.8" fill="#fff"/>
<rect class="aa" x="151.76" y="220.4" width="3.5" height="4.8" fill="#fff"/>
<rect class="aa" x="157.74" y="220.4" width="3.5" height="4.8" fill="#fff"/>
<rect x="84.7" y="212.5" width="72.49999999999999" height="4.4" fill="#fff" />
<rect x="119" y="212.5" width="4.6" height="4.4" fill="#000" />
<polygon class="aa" fill="#fff"  points="77.80,213.10 80.30,214.70 77.80,216.30"/>
<rect class="aa" x="113.1" y="138.3" width="14.1" height="72.2" rx="1.5" fill="#fff" stroke="#000" stroke-width="1.1"/>
<text transform="translate(118.90,151.40) scale(0.85,1)" font-size="12.4" text-anchor="middle" letter-spacing="0" fill="#000" stroke="#000" stroke-width="0.15" font-weight="normal">B</text>
<text transform="translate(118.90,166.50) scale(0.85,1)" font-size="12.4" text-anchor="middle" letter-spacing="0" fill="#000" stroke="#000" stroke-width="0.15" font-weight="normal">A</text>
<text transform="translate(118.90,181.60) scale(0.85,1)" font-size="12.4" text-anchor="middle" letter-spacing="0" fill="#000" stroke="#000" stroke-width="0.15" font-weight="normal">N</text>
<text transform="translate(118.90,196.20) scale(0.85,1)" font-size="12.4" text-anchor="middle" letter-spacing="0" fill="#000" stroke="#000" stroke-width="0.15" font-weight="normal">K</text>
<text transform="translate(117.50,209.90) scale(0.9,1)" font-size="9.6" text-anchor="middle" letter-spacing="0" fill="#000" stroke="#000" stroke-width="0.15" font-weight="normal">0</text>
<path class="aa" d="M158,121.3 Q165.4,121.8 165.4,127 V172.5 L170.5,176.3 L165.4,180 V222.5 Q165.4,227 160.7,227.8" fill="none" stroke="#000" stroke-width="1.1"/>
<rect class="aa" x="172.2" y="167.2" width="49.5" height="17.80000000000001" rx="2.9" fill="#000"/>
<rect class="aa" x="172.35" y="167.35" width="47.2" height="15.50000000000001" rx="2.4" fill="#fff" stroke="#000" stroke-width="2.3"/>
<text transform="translate(197.49,179.86) scale(0.77,1)" font-size="13.6" text-anchor="middle" letter-spacing="2.3" fill="#000" stroke="#000" stroke-width="0.15" font-weight="normal">CACHE</text>
<rect x="76.2" y="308.2" width="84.8" height="23.30000000000001" fill="#000" />
<rect x="79.3" y="310.2" width="3.4" height="4.4" fill="#fff" />
<rect x="85.2" y="310.2" width="3.4" height="4.4" fill="#fff" />
<rect x="91.1" y="310.2" width="3.4" height="4.4" fill="#fff" />
<rect x="97.0" y="310.2" width="3.4" height="4.4" fill="#fff" />
<rect x="102.9" y="310.2" width="3.4" height="4.4" fill="#fff" />
<rect x="108.8" y="310.2" width="3.4" height="4.4" fill="#fff" />
<rect x="114.7" y="310.2" width="3.4" height="4.4" fill="#fff" />
<rect x="120.6" y="310.2" width="3.4" height="4.4" fill="#fff" />
<rect x="126.5" y="310.2" width="3.4" height="4.4" fill="#fff" />
<rect x="132.4" y="310.2" width="3.4" height="4.4" fill="#fff" />
<rect x="138.3" y="310.2" width="3.4" height="4.4" fill="#fff" />
<rect x="144.2" y="310.2" width="3.4" height="4.4" fill="#fff" />
<rect x="150.10000000000002" y="310.2" width="3.4" height="4.4" fill="#fff" />
<rect x="156.0" y="310.2" width="3.4" height="4.4" fill="#fff" />
<rect x="79.3" y="325.7" width="3.4" height="4.4" fill="#fff" />
<rect x="85.2" y="325.7" width="3.4" height="4.4" fill="#fff" />
<rect x="91.1" y="325.7" width="3.4" height="4.4" fill="#fff" />
<rect x="97.0" y="325.7" width="3.4" height="4.4" fill="#fff" />
<rect x="102.9" y="325.7" width="3.4" height="4.4" fill="#fff" />
<rect x="108.8" y="325.7" width="3.4" height="4.4" fill="#fff" />
<rect x="114.7" y="325.7" width="3.4" height="4.4" fill="#fff" />
<rect x="120.6" y="325.7" width="3.4" height="4.4" fill="#fff" />
<rect x="126.5" y="325.7" width="3.4" height="4.4" fill="#fff" />
<rect x="132.4" y="325.7" width="3.4" height="4.4" fill="#fff" />
<rect x="138.3" y="325.7" width="3.4" height="4.4" fill="#fff" />
<rect x="144.2" y="325.7" width="3.4" height="4.4" fill="#fff" />
<rect x="150.10000000000002" y="325.7" width="3.4" height="4.4" fill="#fff" />
<rect x="156.0" y="325.7" width="3.4" height="4.4" fill="#fff" />
<rect x="83.4" y="318" width="72.6" height="4.8" fill="#fff" />
<polygon class="aa" fill="#fff"  points="76.00,318.70 78.60,320.40 76.00,322.10"/>
<polygon class="" fill="#000"  points="159.30,360.90 264.70,360.90 264.70,461.70 260.20,466.20 159.30,466.20"/>
<rect x="186" y="388" width="52.599999999999994" height="53" fill="#fff" />
<circle class="aa" cx="164.80" cy="367.00" r="2.0" fill="#fff"/>
<circle class="aa" cx="164.80" cy="373.65" r="2.0" fill="#fff"/>
<circle class="aa" cx="164.80" cy="380.30" r="2.0" fill="#fff"/>
<circle class="aa" cx="164.80" cy="386.95" r="2.0" fill="#fff"/>
<circle class="aa" cx="164.80" cy="393.60" r="2.0" fill="#fff"/>
<circle class="aa" cx="164.80" cy="400.25" r="2.0" fill="#fff"/>
<circle class="aa" cx="164.80" cy="406.90" r="2.0" fill="#fff"/>
<circle class="aa" cx="164.80" cy="413.55" r="2.0" fill="#fff"/>
<circle class="aa" cx="164.80" cy="420.20" r="2.0" fill="#fff"/>
<circle class="aa" cx="164.80" cy="426.85" r="2.0" fill="#fff"/>
<circle class="aa" cx="164.80" cy="433.50" r="2.0" fill="#fff"/>
<circle class="aa" cx="164.80" cy="440.15" r="2.0" fill="#fff"/>
<circle class="aa" cx="164.80" cy="446.80" r="2.0" fill="#fff"/>
<circle class="aa" cx="164.80" cy="453.45" r="2.0" fill="#fff"/>
<circle class="aa" cx="164.80" cy="460.10" r="2.0" fill="#fff"/>
<circle class="aa" cx="171.59" cy="367.00" r="2.0" fill="#fff"/>
<circle class="aa" cx="171.59" cy="373.65" r="2.0" fill="#fff"/>
<circle class="aa" cx="171.59" cy="380.30" r="2.0" fill="#fff"/>
<circle class="aa" cx="171.59" cy="386.95" r="2.0" fill="#fff"/>
<circle class="aa" cx="171.59" cy="393.60" r="2.0" fill="#fff"/>
<circle class="aa" cx="171.59" cy="400.25" r="2.0" fill="#fff"/>
<circle class="aa" cx="171.59" cy="406.90" r="2.0" fill="#fff"/>
<circle class="aa" cx="171.59" cy="413.55" r="2.0" fill="#fff"/>
<circle class="aa" cx="171.59" cy="420.20" r="2.0" fill="#fff"/>
<circle class="aa" cx="171.59" cy="426.85" r="2.0" fill="#fff"/>
<circle class="aa" cx="171.59" cy="433.50" r="2.0" fill="#fff"/>
<circle class="aa" cx="171.59" cy="440.15" r="2.0" fill="#fff"/>
<circle class="aa" cx="171.59" cy="446.80" r="2.0" fill="#fff"/>
<circle class="aa" cx="171.59" cy="453.45" r="2.0" fill="#fff"/>
<circle class="aa" cx="171.59" cy="460.10" r="2.0" fill="#fff"/>
<circle class="aa" cx="178.38" cy="367.00" r="2.0" fill="#fff"/>
<circle class="aa" cx="178.38" cy="373.65" r="2.0" fill="#fff"/>
<circle class="aa" cx="178.38" cy="380.30" r="2.0" fill="#fff"/>
<circle class="aa" cx="178.38" cy="386.95" r="2.0" fill="#fff"/>
<circle class="aa" cx="178.38" cy="393.60" r="2.0" fill="#fff"/>
<circle class="aa" cx="178.38" cy="400.25" r="2.0" fill="#fff"/>
<circle class="aa" cx="178.38" cy="406.90" r="2.0" fill="#fff"/>
<circle class="aa" cx="178.38" cy="413.55" r="2.0" fill="#fff"/>
<circle class="aa" cx="178.38" cy="420.20" r="2.0" fill="#fff"/>
<circle class="aa" cx="178.38" cy="426.85" r="2.0" fill="#fff"/>
<circle class="aa" cx="178.38" cy="433.50" r="2.0" fill="#fff"/>
<circle class="aa" cx="178.38" cy="440.15" r="2.0" fill="#fff"/>
<circle class="aa" cx="178.38" cy="446.80" r="2.0" fill="#fff"/>
<circle class="aa" cx="178.38" cy="453.45" r="2.0" fill="#fff"/>
<circle class="aa" cx="178.38" cy="460.10" r="2.0" fill="#fff"/>
<circle class="aa" cx="185.17" cy="367.00" r="2.0" fill="#fff"/>
<circle class="aa" cx="185.17" cy="373.65" r="2.0" fill="#fff"/>
<circle class="aa" cx="185.17" cy="380.30" r="2.0" fill="#fff"/>
<circle class="aa" cx="185.17" cy="446.80" r="2.0" fill="#fff"/>
<circle class="aa" cx="185.17" cy="453.45" r="2.0" fill="#fff"/>
<circle class="aa" cx="185.17" cy="460.10" r="2.0" fill="#fff"/>
<circle class="aa" cx="191.96" cy="367.00" r="2.0" fill="#fff"/>
<circle class="aa" cx="191.96" cy="373.65" r="2.0" fill="#fff"/>
<circle class="aa" cx="191.96" cy="380.30" r="2.0" fill="#fff"/>
<circle class="aa" cx="191.96" cy="446.80" r="2.0" fill="#fff"/>
<circle class="aa" cx="191.96" cy="453.45" r="2.0" fill="#fff"/>
<circle class="aa" cx="191.96" cy="460.10" r="2.0" fill="#fff"/>
<circle class="aa" cx="198.75" cy="367.00" r="2.0" fill="#fff"/>
<circle class="aa" cx="198.75" cy="373.65" r="2.0" fill="#fff"/>
<circle class="aa" cx="198.75" cy="380.30" r="2.0" fill="#fff"/>
<circle class="aa" cx="198.75" cy="446.80" r="2.0" fill="#fff"/>
<circle class="aa" cx="198.75" cy="453.45" r="2.0" fill="#fff"/>
<circle class="aa" cx="198.75" cy="460.10" r="2.0" fill="#fff"/>
<circle class="aa" cx="205.54" cy="367.00" r="2.0" fill="#fff"/>
<circle class="aa" cx="205.54" cy="373.65" r="2.0" fill="#fff"/>
<circle class="aa" cx="205.54" cy="380.30" r="2.0" fill="#fff"/>
<circle class="aa" cx="205.54" cy="446.80" r="2.0" fill="#fff"/>
<circle class="aa" cx="205.54" cy="453.45" r="2.0" fill="#fff"/>
<circle class="aa" cx="205.54" cy="460.10" r="2.0" fill="#fff"/>
<circle class="aa" cx="212.33" cy="367.00" r="2.0" fill="#fff"/>
<circle class="aa" cx="212.33" cy="373.65" r="2.0" fill="#fff"/>
<circle class="aa" cx="212.33" cy="380.30" r="2.0" fill="#fff"/>
<circle class="aa" cx="212.33" cy="446.80" r="2.0" fill="#fff"/>
<circle class="aa" cx="212.33" cy="453.45" r="2.0" fill="#fff"/>
<circle class="aa" cx="212.33" cy="460.10" r="2.0" fill="#fff"/>
<circle class="aa" cx="219.12" cy="367.00" r="2.0" fill="#fff"/>
<circle class="aa" cx="219.12" cy="373.65" r="2.0" fill="#fff"/>
<circle class="aa" cx="219.12" cy="380.30" r="2.0" fill="#fff"/>
<circle class="aa" cx="219.12" cy="446.80" r="2.0" fill="#fff"/>
<circle class="aa" cx="219.12" cy="453.45" r="2.0" fill="#fff"/>
<circle class="aa" cx="219.12" cy="460.10" r="2.0" fill="#fff"/>
<circle class="aa" cx="225.91" cy="367.00" r="2.0" fill="#fff"/>
<circle class="aa" cx="225.91" cy="373.65" r="2.0" fill="#fff"/>
<circle class="aa" cx="225.91" cy="380.30" r="2.0" fill="#fff"/>
<circle class="aa" cx="225.91" cy="446.80" r="2.0" fill="#fff"/>
<circle class="aa" cx="225.91" cy="453.45" r="2.0" fill="#fff"/>
<circle class="aa" cx="225.91" cy="460.10" r="2.0" fill="#fff"/>
<circle class="aa" cx="232.70" cy="367.00" r="2.0" fill="#fff"/>
<circle class="aa" cx="232.70" cy="373.65" r="2.0" fill="#fff"/>
<circle class="aa" cx="232.70" cy="380.30" r="2.0" fill="#fff"/>
<circle class="aa" cx="232.70" cy="446.80" r="2.0" fill="#fff"/>
<circle class="aa" cx="232.70" cy="453.45" r="2.0" fill="#fff"/>
<circle class="aa" cx="232.70" cy="460.10" r="2.0" fill="#fff"/>
<circle class="aa" cx="239.49" cy="367.00" r="2.0" fill="#fff"/>
<circle class="aa" cx="239.49" cy="373.65" r="2.0" fill="#fff"/>
<circle class="aa" cx="239.49" cy="380.30" r="2.0" fill="#fff"/>
<circle class="aa" cx="239.49" cy="446.80" r="2.0" fill="#fff"/>
<circle class="aa" cx="239.49" cy="453.45" r="2.0" fill="#fff"/>
<circle class="aa" cx="239.49" cy="460.10" r="2.0" fill="#fff"/>
<circle class="aa" cx="246.28" cy="367.00" r="2.0" fill="#fff"/>
<circle class="aa" cx="246.28" cy="373.65" r="2.0" fill="#fff"/>
<circle class="aa" cx="246.28" cy="380.30" r="2.0" fill="#fff"/>
<circle class="aa" cx="246.28" cy="386.95" r="2.0" fill="#fff"/>
<circle class="aa" cx="246.28" cy="393.60" r="2.0" fill="#fff"/>
<circle class="aa" cx="246.28" cy="400.25" r="2.0" fill="#fff"/>
<circle class="aa" cx="246.28" cy="406.90" r="2.0" fill="#fff"/>
<circle class="aa" cx="246.28" cy="413.55" r="2.0" fill="#fff"/>
<circle class="aa" cx="246.28" cy="420.20" r="2.0" fill="#fff"/>
<circle class="aa" cx="246.28" cy="426.85" r="2.0" fill="#fff"/>
<circle class="aa" cx="246.28" cy="433.50" r="2.0" fill="#fff"/>
<circle class="aa" cx="246.28" cy="440.15" r="2.0" fill="#fff"/>
<circle class="aa" cx="246.28" cy="446.80" r="2.0" fill="#fff"/>
<circle class="aa" cx="246.28" cy="453.45" r="2.0" fill="#fff"/>
<circle class="aa" cx="246.28" cy="460.10" r="2.0" fill="#fff"/>
<circle class="aa" cx="253.07" cy="367.00" r="2.0" fill="#fff"/>
<circle class="aa" cx="253.07" cy="373.65" r="2.0" fill="#fff"/>
<circle class="aa" cx="253.07" cy="380.30" r="2.0" fill="#fff"/>
<circle class="aa" cx="253.07" cy="386.95" r="2.0" fill="#fff"/>
<circle class="aa" cx="253.07" cy="393.60" r="2.0" fill="#fff"/>
<circle class="aa" cx="253.07" cy="400.25" r="2.0" fill="#fff"/>
<circle class="aa" cx="253.07" cy="406.90" r="2.0" fill="#fff"/>
<circle class="aa" cx="253.07" cy="413.55" r="2.0" fill="#fff"/>
<circle class="aa" cx="253.07" cy="420.20" r="2.0" fill="#fff"/>
<circle class="aa" cx="253.07" cy="426.85" r="2.0" fill="#fff"/>
<circle class="aa" cx="253.07" cy="433.50" r="2.0" fill="#fff"/>
<circle class="aa" cx="253.07" cy="440.15" r="2.0" fill="#fff"/>
<circle class="aa" cx="253.07" cy="446.80" r="2.0" fill="#fff"/>
<circle class="aa" cx="253.07" cy="453.45" r="2.0" fill="#fff"/>
<circle class="aa" cx="253.07" cy="460.10" r="2.0" fill="#fff"/>
<circle class="aa" cx="259.86" cy="367.00" r="2.0" fill="#fff"/>
<circle class="aa" cx="259.86" cy="373.65" r="2.0" fill="#fff"/>
<circle class="aa" cx="259.86" cy="380.30" r="2.0" fill="#fff"/>
<circle class="aa" cx="259.86" cy="386.95" r="2.0" fill="#fff"/>
<circle class="aa" cx="259.86" cy="393.60" r="2.0" fill="#fff"/>
<circle class="aa" cx="259.86" cy="400.25" r="2.0" fill="#fff"/>
<circle class="aa" cx="259.86" cy="406.90" r="2.0" fill="#fff"/>
<circle class="aa" cx="259.86" cy="413.55" r="2.0" fill="#fff"/>
<circle class="aa" cx="259.86" cy="420.20" r="2.0" fill="#fff"/>
<circle class="aa" cx="259.86" cy="426.85" r="2.0" fill="#fff"/>
<circle class="aa" cx="259.86" cy="433.50" r="2.0" fill="#fff"/>
<circle class="aa" cx="259.86" cy="440.15" r="2.0" fill="#fff"/>
<circle class="aa" cx="259.86" cy="446.80" r="2.0" fill="#fff"/>
<circle class="aa" cx="259.86" cy="453.45" r="2.0" fill="#fff"/>
<circle class="aa" cx="259.86" cy="460.10" r="2.0" fill="#fff"/>
<circle class="aa" cx="233.8" cy="435.4" r="2.9" fill="#000"/>
<rect class="aa" x="196.1" y="405.9" width="32.30000000000001" height="18.0" rx="2.9" fill="#000"/>
<rect class="aa" x="196.04999999999998" y="405.84999999999997" width="30.400000000000013" height="16.1" rx="2.4" fill="#fff" stroke="#000" stroke-width="1.9"/>
<text transform="translate(213.48,418.66) scale(0.77,1)" font-size="13.6" text-anchor="middle" letter-spacing="2.8" fill="#000" stroke="#000" stroke-width="0.15" font-weight="normal">CPU</text>
<polygon class="aa" fill="#000"  points="98.60,346.50 102.60,346.50 110.90,375.50 109.10,375.50"/>
<polygon class="aa" fill="#000"  points="123.80,341.20 127.00,343.60 117.40,352.60 115.40,350.30"/>
<rect x="89.9" y="349.9" width="6.4" height="78.60000000000002" fill="#000" />
<rect class="aa" x="91.2" y="351.10" width="3.8000000000000003" height="1.1" fill="#fff"/>
<rect class="aa" x="91.2" y="357.00" width="3.8000000000000003" height="1.1" fill="#fff"/>
<rect class="aa" x="91.2" y="362.90" width="3.8000000000000003" height="1.1" fill="#fff"/>
<rect class="aa" x="91.2" y="368.80" width="3.8000000000000003" height="1.1" fill="#fff"/>
<rect class="aa" x="91.2" y="374.70" width="3.8000000000000003" height="1.9" fill="#fff"/>
<rect class="aa" x="91.2" y="380.60" width="3.8000000000000003" height="1.1" fill="#fff"/>
<rect class="aa" x="91.2" y="386.50" width="3.8000000000000003" height="1.1" fill="#fff"/>
<rect class="aa" x="91.2" y="392.40" width="3.8000000000000003" height="1.1" fill="#fff"/>
<rect class="aa" x="91.2" y="398.30" width="3.8000000000000003" height="1.1" fill="#fff"/>
<rect class="aa" x="91.2" y="404.20" width="3.8000000000000003" height="1.9" fill="#fff"/>
<rect class="aa" x="91.2" y="410.10" width="3.8000000000000003" height="1.1" fill="#fff"/>
<rect class="aa" x="91.2" y="416.00" width="3.8000000000000003" height="1.1" fill="#fff"/>
<rect class="aa" x="91.2" y="421.90" width="3.8000000000000003" height="1.1" fill="#fff"/>
<rect class="aa" x="91.30000000000001" y="352.20" width="3.6000000000000005" height="3.8" fill="#fff"/>
<rect class="aa" x="92.2" y="353.10" width="1.8000000000000007" height="2" fill="#555"/>
<rect x="110" y="349.9" width="6.4" height="74.0" fill="#000" />
<rect class="aa" x="111.3" y="351.10" width="3.8000000000000003" height="1.1" fill="#fff"/>
<rect class="aa" x="111.3" y="357.00" width="3.8000000000000003" height="1.1" fill="#fff"/>
<rect class="aa" x="111.3" y="362.90" width="3.8000000000000003" height="1.1" fill="#fff"/>
<rect class="aa" x="111.3" y="368.80" width="3.8000000000000003" height="1.1" fill="#fff"/>
<rect class="aa" x="111.3" y="374.70" width="3.8000000000000003" height="1.1" fill="#fff"/>
<rect class="aa" x="111.3" y="380.60" width="3.8000000000000003" height="1.9" fill="#fff"/>
<rect class="aa" x="111.3" y="386.50" width="3.8000000000000003" height="1.1" fill="#fff"/>
<rect class="aa" x="111.3" y="392.40" width="3.8000000000000003" height="1.1" fill="#fff"/>
<rect class="aa" x="111.3" y="398.30" width="3.8000000000000003" height="1.1" fill="#fff"/>
<rect class="aa" x="111.3" y="404.20" width="3.8000000000000003" height="1.1" fill="#fff"/>
<rect class="aa" x="111.3" y="410.10" width="3.8000000000000003" height="1.9" fill="#fff"/>
<rect class="aa" x="111.3" y="416.00" width="3.8000000000000003" height="1.1" fill="#fff"/>
<rect class="aa" x="111.3" y="421.90" width="3.8000000000000003" height="1.1" fill="#fff"/>
<rect class="aa" x="111.4" y="352.20" width="3.6000000000000005" height="3.8" fill="#fff"/>
<rect class="aa" x="112.3" y="353.10" width="1.8000000000000007" height="2" fill="#555"/>
<rect class="aa" x="111.4" y="383.30" width="3.6000000000000005" height="3.8" fill="#fff"/>
<rect class="aa" x="112.3" y="384.20" width="1.8000000000000007" height="2" fill="#555"/>
<rect x="128.1" y="349.9" width="6.4" height="78.5" fill="#000" />
<rect class="aa" x="129.4" y="351.10" width="3.8000000000000003" height="1.1" fill="#fff"/>
<rect class="aa" x="129.4" y="357.00" width="3.8000000000000003" height="1.1" fill="#fff"/>
<rect class="aa" x="129.4" y="362.90" width="3.8000000000000003" height="1.1" fill="#fff"/>
<rect class="aa" x="129.4" y="368.80" width="3.8000000000000003" height="1.1" fill="#fff"/>
<rect class="aa" x="129.4" y="374.70" width="3.8000000000000003" height="1.1" fill="#fff"/>
<rect class="aa" x="129.4" y="380.60" width="3.8000000000000003" height="1.1" fill="#fff"/>
<rect class="aa" x="129.4" y="386.50" width="3.8000000000000003" height="1.1" fill="#fff"/>
<rect class="aa" x="129.4" y="392.40" width="3.8000000000000003" height="1.1" fill="#fff"/>
<rect class="aa" x="129.4" y="398.30" width="3.8000000000000003" height="1.1" fill="#fff"/>
<rect class="aa" x="129.4" y="404.20" width="3.8000000000000003" height="1.1" fill="#fff"/>
<rect class="aa" x="129.4" y="410.10" width="3.8000000000000003" height="1.1" fill="#fff"/>
<rect class="aa" x="129.4" y="416.00" width="3.8000000000000003" height="1.1" fill="#fff"/>
<rect class="aa" x="129.4" y="421.90" width="3.8000000000000003" height="1.1" fill="#fff"/>
<rect class="aa" x="129.5" y="364.60" width="3.6000000000000005" height="3.8" fill="#fff"/>
<rect class="aa" x="130.4" y="365.50" width="1.8000000000000007" height="2" fill="#555"/>
<rect class="aa" x="129.5" y="383.20" width="3.6000000000000005" height="3.8" fill="#fff"/>
<rect class="aa" x="130.4" y="384.10" width="1.8000000000000007" height="2" fill="#555"/>
<rect class="aa" x="129.5" y="401.90" width="3.6000000000000005" height="3.8" fill="#fff"/>
<rect class="aa" x="130.4" y="402.80" width="1.8000000000000007" height="2" fill="#555"/>
<rect class="aa" x="129.5" y="420.50" width="3.6000000000000005" height="3.8" fill="#fff"/>
<rect class="aa" x="130.4" y="421.40" width="1.8000000000000007" height="2" fill="#555"/>
<path class="aa" d="M133.2,364 V381 M133.2,388 V400 M133.2,407 V419" stroke="#fff" stroke-width="0.8" fill="none"/>
<rect x="101" y="326" width="25" height="6.6" fill="#000" />
<rect x="104.5" y="329.2" width="2.4" height="1" fill="#fff" />
<rect x="108.5" y="329.2" width="2.4" height="1" fill="#fff" />
<rect class="aa" x="104.30000000000001" y="311.7" width="28.499999999999982" height="14.2" rx="3" fill="#fff" stroke="#000" stroke-width="1.8"/>
<text transform="translate(118.64,324.00) scale(0.77,1)" font-size="13.6" text-anchor="middle" letter-spacing="1.8" fill="#000" stroke="#000" stroke-width="0.15" font-weight="normal">TAG</text>
<rect class="aa" x="126.2" y="328.1" width="38.7" height="16.69999999999999" rx="2.9" fill="#000"/>
<rect class="aa" x="126.15" y="328.05" width="36.800000000000004" height="14.799999999999988" rx="2.4" fill="#fff" stroke="#000" stroke-width="1.9"/>
<text transform="translate(144.72,340.21) scale(0.77,1)" font-size="13.6" text-anchor="middle" letter-spacing="2.0" fill="#000" stroke="#000" stroke-width="0.15" font-weight="normal">JP19</text>
<rect class="aa" x="62.6" y="332.8" width="40.199999999999996" height="15.699999999999989" rx="2.9" fill="#000"/>
<rect class="aa" x="62.550000000000004" y="332.75" width="38.3" height="13.799999999999988" rx="2.4" fill="#fff" stroke="#000" stroke-width="1.9"/>
<text transform="translate(81.87,344.41) scale(0.77,1)" font-size="13.6" text-anchor="middle" letter-spacing="2.0" fill="#000" stroke="#000" stroke-width="0.15" font-weight="normal">JP20</text>
<rect class="aa" x="150.3" y="348.4" width="40.29999999999998" height="15.600000000000023" rx="2.9" fill="#000"/>
<rect class="aa" x="150.25" y="348.34999999999997" width="38.399999999999984" height="13.700000000000022" rx="2.4" fill="#fff" stroke="#000" stroke-width="1.9"/>
<text transform="translate(169.62,359.96) scale(0.77,1)" font-size="13.6" text-anchor="middle" letter-spacing="2.0" fill="#000" stroke="#000" stroke-width="0.15" font-weight="normal">JP22</text>
<polygon class="aa" fill="#000" points="149.90,350.60 146.70,352.48 134.40,354.60 134.40,356.60 146.70,358.08 149.90,359.80"/>
<polygon class="aa" fill="#fff" points="151.10,352.30 146.70,354.08 143.39,355.27 143.39,355.47 146.70,356.48 151.10,358.10"/>
<rect class="aa" x="150.3" y="367.6" width="40.29999999999998" height="15.399999999999977" rx="2.9" fill="#000"/>
<rect class="aa" x="150.25" y="367.55" width="38.399999999999984" height="13.499999999999977" rx="2.4" fill="#fff" stroke="#000" stroke-width="1.9"/>
<text transform="translate(169.62,379.06) scale(0.77,1)" font-size="13.6" text-anchor="middle" letter-spacing="2.0" fill="#000" stroke="#000" stroke-width="0.15" font-weight="normal">JP23</text>
<polygon class="aa" fill="#000" points="149.90,369.70 146.70,371.48 134.40,373.20 134.40,375.20 146.70,377.08 149.90,378.90"/>
<polygon class="aa" fill="#fff" points="151.10,371.40 146.70,373.08 143.39,374.16 143.39,374.36 146.70,375.48 151.10,377.20"/>
<rect class="aa" x="150.3" y="386.6" width="40.29999999999998" height="15.399999999999977" rx="2.9" fill="#000"/>
<rect class="aa" x="150.25" y="386.55" width="38.399999999999984" height="13.499999999999977" rx="2.4" fill="#fff" stroke="#000" stroke-width="1.9"/>
<text transform="translate(169.62,398.06) scale(0.77,1)" font-size="13.6" text-anchor="middle" letter-spacing="2.0" fill="#000" stroke="#000" stroke-width="0.15" font-weight="normal">JP24</text>
<polygon class="aa" fill="#000" points="149.90,388.70 146.70,390.58 134.40,392.70 134.40,394.70 146.70,396.18 149.90,397.90"/>
<polygon class="aa" fill="#fff" points="151.10,390.40 146.70,392.18 143.39,393.37 143.39,393.57 146.70,394.58 151.10,396.20"/>
<rect class="aa" x="150.3" y="406.8" width="40.29999999999998" height="17.0" rx="2.9" fill="#000"/>
<rect class="aa" x="150.25" y="406.75" width="38.399999999999984" height="15.1" rx="2.4" fill="#fff" stroke="#000" stroke-width="1.9"/>
<text transform="translate(169.62,419.06) scale(0.77,1)" font-size="13.6" text-anchor="middle" letter-spacing="2.0" fill="#000" stroke="#000" stroke-width="0.15" font-weight="normal">JP25</text>
<polygon class="aa" fill="#000" points="149.90,409.70 146.70,411.23 134.40,412.00 134.40,414.00 146.70,416.83 149.90,418.90"/>
<polygon class="aa" fill="#fff" points="151.10,411.40 146.70,412.83 143.39,413.65 143.39,413.85 146.70,415.23 151.10,417.20"/>
<rect class="aa" x="35.6" y="371.3" width="41.199999999999996" height="17.19999999999999" rx="2.9" fill="#000"/>
<rect class="aa" x="35.550000000000004" y="371.25" width="39.3" height="15.299999999999988" rx="2.4" fill="#fff" stroke="#000" stroke-width="1.9"/>
<text transform="translate(55.37,383.66) scale(0.77,1)" font-size="13.6" text-anchor="middle" letter-spacing="2.0" fill="#000" stroke="#000" stroke-width="0.15" font-weight="normal">JP16</text>
<polygon class="aa" fill="#000" points="76.20,374.00 79.40,375.66 90.20,377.00 90.20,379.00 79.40,381.26 76.20,383.20"/>
<polygon class="aa" fill="#fff" points="75.00,375.70 79.40,377.26 82.08,378.25 82.08,378.45 79.40,379.66 75.00,381.50"/>
<rect class="aa" x="35.6" y="401.2" width="39.99999999999999" height="17.5" rx="2.9" fill="#000"/>
<rect class="aa" x="35.550000000000004" y="401.15" width="38.099999999999994" height="15.6" rx="2.4" fill="#fff" stroke="#000" stroke-width="1.9"/>
<text transform="translate(54.77,413.71) scale(0.77,1)" font-size="13.6" text-anchor="middle" letter-spacing="2.0" fill="#000" stroke="#000" stroke-width="0.15" font-weight="normal">JP17</text>
<polygon class="aa" fill="#000" points="75.00,404.40 78.20,406.26 90.20,408.30 90.20,410.30 78.20,411.86 75.00,413.60"/>
<polygon class="aa" fill="#fff" points="73.80,406.10 78.20,407.86 81.38,409.03 81.38,409.23 78.20,410.26 73.80,411.90"/>
<polygon class="aa" fill="#000"  points="81.50,427.50 84.30,429.00 90.60,420.00 89.40,418.60"/>
<rect class="aa" x="42.5" y="426.8" width="41.099999999999994" height="18.19999999999999" rx="2.9" fill="#000"/>
<rect class="aa" x="42.45" y="426.75" width="39.199999999999996" height="16.29999999999999" rx="2.4" fill="#fff" stroke="#000" stroke-width="1.9"/>
<text transform="translate(62.22,439.66) scale(0.77,1)" font-size="13.6" text-anchor="middle" letter-spacing="2.0" fill="#000" stroke="#000" stroke-width="0.15" font-weight="normal">JP18</text>
<polygon class="aa" fill="#000"  points="108.90,441.40 110.80,438.20 112.55,423.70 114.05,423.70 115.80,438.20 117.70,441.40"/>
<polygon class="aa" fill="#fff"  points="110.40,442.40 112.05,438.20 113.15,432.20 113.45,432.20 114.55,438.20 116.20,442.40"/>
<rect class="aa" x="93.3" y="441.6" width="42.500000000000014" height="17.799999999999955" rx="2.9" fill="#000"/>
<rect class="aa" x="93.25" y="441.55" width="40.600000000000016" height="15.899999999999954" rx="2.4" fill="#fff" stroke="#000" stroke-width="1.9"/>
<text transform="translate(113.72,454.26) scale(0.77,1)" font-size="13.6" text-anchor="middle" letter-spacing="2.0" fill="#000" stroke="#000" stroke-width="0.15" font-weight="normal">JP21</text>
<polygon class="aa" fill="#000"  points="68.00,463.20 71.00,462.20 78.40,473.30 76.00,473.30"/>
<polygon class="aa" fill="#000"  points="73.00,494.60 75.80,495.80 83.00,485.40 80.60,485.40"/>
<rect class="aa" x="38.5" y="449.7" width="32.2" height="15.900000000000034" rx="2.9" fill="#000"/>
<rect class="aa" x="38.45" y="449.65" width="30.300000000000004" height="14.000000000000034" rx="2.4" fill="#fff" stroke="#000" stroke-width="1.9"/>
<text transform="translate(53.77,461.41) scale(0.77,1)" font-size="13.6" text-anchor="middle" letter-spacing="2.0" fill="#000" stroke="#000" stroke-width="0.15" font-weight="normal">JP8</text>
<rect class="aa" x="17.5" y="470.7" width="33.4" height="17.0" rx="2.9" fill="#000"/>
<rect class="aa" x="17.45" y="470.65" width="31.5" height="15.1" rx="2.4" fill="#fff" stroke="#000" stroke-width="1.9"/>
<text transform="translate(33.37,482.96) scale(0.77,1)" font-size="13.6" text-anchor="middle" letter-spacing="2.0" fill="#000" stroke="#000" stroke-width="0.15" font-weight="normal">JP7</text>
<polygon class="aa" fill="#000" points="50.30,473.60 53.50,475.55 67.40,478.00 67.40,480.00 53.50,481.15 50.30,482.80"/>
<polygon class="aa" fill="#fff" points="49.10,475.30 53.50,477.15 57.48,478.44 57.48,478.64 53.50,479.55 49.10,481.10"/>
<rect class="aa" x="42.8" y="494.3" width="33.0" height="16.19999999999999" rx="2.9" fill="#000"/>
<rect class="aa" x="42.75" y="494.25" width="31.1" height="14.299999999999988" rx="2.4" fill="#fff" stroke="#000" stroke-width="1.9"/>
<text transform="translate(58.47,506.16) scale(0.77,1)" font-size="13.6" text-anchor="middle" letter-spacing="2.0" fill="#000" stroke="#000" stroke-width="0.15" font-weight="normal">JP9</text>
<rect x="66.9" y="473.1" width="18.099999999999994" height="12.699999999999989" fill="#000" />
<rect x="68" y="474" width="4" height="1" fill="#fff" />
<rect x="73" y="474" width="5" height="1" fill="#fff" />
<rect x="80" y="474" width="4" height="1" fill="#fff" />
<rect x="68" y="479" width="4" height="1" fill="#fff" />
<rect x="73" y="479" width="5" height="1" fill="#fff" />
<rect x="80" y="479" width="4" height="1" fill="#fff" />
<rect x="73" y="474" width="1" height="11" fill="#fff" />
<rect x="80" y="474" width="1" height="11" fill="#fff" />
<polygon class="aa" fill="#000"  points="144.80,482.20 149.00,480.60 158.80,491.70 155.00,491.70"/>
<line x1="147.6" y1="482.6" x2="155.2" y2="490.4" stroke="#fff" stroke-width="0.9" class="aa"/>
<polygon class="aa" fill="#000"  points="155.40,511.80 158.20,513.00 165.40,504.00 163.00,504.00"/>
<polygon class="aa" fill="#000"  points="196.00,481.60 199.00,483.20 190.00,491.70 187.60,491.70"/>
<polygon class="aa" fill="#000"  points="187.80,512.20 190.60,511.00 182.00,504.00 179.80,504.00"/>
<rect x="147.3" y="491.5" width="47.29999999999998" height="12.800000000000011" fill="#000" />
<rect x="148.3" y="492.5" width="4.6" height="1" fill="#fff" />
<rect x="148.3" y="502.3" width="4.6" height="1" fill="#fff" />
<rect x="153.4" y="492.5" width="1" height="10.800000000000011" fill="#fff" />
<rect x="154.4" y="492.5" width="6.8" height="10.800000000000011" fill="#fff" />
<rect x="154.4" y="497.3" width="6.8" height="1.2" fill="#000" />
<rect x="157.3" y="492.5" width="1.1" height="10.800000000000011" fill="#000" />
<rect x="164.6" y="492.5" width="1" height="10.800000000000011" fill="#fff" />
<rect x="167.2" y="492.5" width="1" height="10.800000000000011" fill="#fff" />
<line x1="169.5" y1="492.8" x2="194" y2="492.8" stroke="#fff" stroke-width="1" stroke-dasharray="4.2,1.6" shape-rendering="crispEdges"/>
<line x1="169.5" y1="497.5" x2="194" y2="497.5" stroke="#fff" stroke-width="1" stroke-dasharray="4.2,1.6" shape-rendering="crispEdges"/>
<line x1="169.5" y1="502.8" x2="194" y2="502.8" stroke="#fff" stroke-width="1" stroke-dasharray="4.2,1.6" shape-rendering="crispEdges"/>
<rect class="aa" x="109.5" y="466" width="40.69999999999999" height="17.399999999999977" rx="2.9" fill="#000"/>
<rect class="aa" x="109.45" y="465.95" width="38.79999999999999" height="15.499999999999977" rx="2.4" fill="#fff" stroke="#000" stroke-width="1.9"/>
<text transform="translate(129.02,478.46) scale(0.77,1)" font-size="13.6" text-anchor="middle" letter-spacing="2.0" fill="#000" stroke="#000" stroke-width="0.15" font-weight="normal">JP27</text>
<rect class="aa" x="92.7" y="489.4" width="40.39999999999999" height="17.30000000000001" rx="2.9" fill="#000"/>
<rect class="aa" x="92.65" y="489.34999999999997" width="38.49999999999999" height="15.400000000000011" rx="2.4" fill="#fff" stroke="#000" stroke-width="1.9"/>
<text transform="translate(112.07,501.81) scale(0.77,1)" font-size="13.6" text-anchor="middle" letter-spacing="2.0" fill="#000" stroke="#000" stroke-width="0.15" font-weight="normal">JP26</text>
<polygon class="aa" fill="#000" points="132.50,492.90 135.70,494.59 147.50,496.00 147.50,498.00 135.70,500.19 132.50,502.10"/>
<polygon class="aa" fill="#fff" points="131.30,494.60 135.70,496.19 138.80,497.19 138.80,497.39 135.70,498.59 131.30,500.40"/>
<rect class="aa" x="118.2" y="512" width="40.999999999999986" height="17.399999999999977" rx="2.9" fill="#000"/>
<rect class="aa" x="118.15" y="511.95" width="39.09999999999999" height="15.499999999999977" rx="2.4" fill="#fff" stroke="#000" stroke-width="1.9"/>
<text transform="translate(137.87,524.46) scale(0.77,1)" font-size="13.6" text-anchor="middle" letter-spacing="2.0" fill="#000" stroke="#000" stroke-width="0.15" font-weight="normal">JP28</text>
<rect class="aa" x="155.3" y="456.4" width="40.0" height="17.600000000000023" rx="2.9" fill="#000"/>
<rect class="aa" x="155.25" y="456.34999999999997" width="38.1" height="15.700000000000022" rx="2.4" fill="#fff" stroke="#000" stroke-width="1.9"/>
<text transform="translate(174.47,468.96) scale(0.77,1)" font-size="13.6" text-anchor="middle" letter-spacing="2.0" fill="#000" stroke="#000" stroke-width="0.15" font-weight="normal">JP29</text>
<polygon class="aa" fill="#000"  points="170.90,473.40 172.80,476.60 174.55,491.70 176.05,491.70 177.80,476.60 179.70,473.40"/>
<polygon class="aa" fill="#fff"  points="172.40,472.40 174.05,476.60 175.15,482.92 175.45,482.92 176.55,476.60 178.20,472.40"/>
<rect class="aa" x="196.9" y="466.8" width="40.400000000000006" height="17.0" rx="2.9" fill="#000"/>
<rect class="aa" x="196.85" y="466.75" width="38.50000000000001" height="15.1" rx="2.4" fill="#fff" stroke="#000" stroke-width="1.9"/>
<text transform="translate(216.27,479.06) scale(0.77,1)" font-size="13.6" text-anchor="middle" letter-spacing="2.0" fill="#000" stroke="#000" stroke-width="0.15" font-weight="normal">JP31</text>
<rect class="aa" x="211.5" y="489.4" width="40.099999999999994" height="16.30000000000001" rx="2.9" fill="#000"/>
<rect class="aa" x="211.45" y="489.34999999999997" width="38.199999999999996" height="14.400000000000011" rx="2.4" fill="#fff" stroke="#000" stroke-width="1.9"/>
<text transform="translate(230.72,501.31) scale(0.77,1)" font-size="13.6" text-anchor="middle" letter-spacing="2.0" fill="#000" stroke="#000" stroke-width="0.15" font-weight="normal">JP32</text>
<polygon class="aa" fill="#000" points="211.10,492.40 207.90,494.16 194.40,495.80 194.40,497.80 207.90,499.76 211.10,501.60"/>
<polygon class="aa" fill="#fff" points="212.30,494.10 207.90,495.76 204.09,496.82 204.09,497.02 207.90,498.16 212.30,499.90"/>
<rect class="aa" x="188.2" y="512" width="41.20000000000002" height="17.399999999999977" rx="2.9" fill="#000"/>
<rect class="aa" x="188.14999999999998" y="511.95" width="39.30000000000002" height="15.499999999999977" rx="2.4" fill="#fff" stroke="#000" stroke-width="1.9"/>
<text transform="translate(207.97,524.46) scale(0.77,1)" font-size="13.6" text-anchor="middle" letter-spacing="2.0" fill="#000" stroke="#000" stroke-width="0.15" font-weight="normal">JP30</text>
<polygon class="aa" fill="#000"  points="366.80,246.50 369.60,245.60 377.40,257.20 374.80,257.20"/>
<polygon class="aa" fill="#000"  points="388.60,245.60 391.40,247.00 381.60,257.20 379.20,257.20"/>
<rect x="367.6" y="256.9" width="23.0" height="13.700000000000045" fill="#000" />
<rect x="369.1" y="258.4" width="15.399999999999977" height="10.700000000000045" fill="none" stroke="#fff" stroke-width="1" shape-rendering="crispEdges"/>
<line x1="369.6" y1="261.79999999999995" x2="389.6" y2="261.79999999999995" stroke="#fff" stroke-width="1" stroke-dasharray="3.2,1.3" shape-rendering="crispEdges"/>
<line x1="369.6" y1="265.9" x2="389.6" y2="265.9" stroke="#fff" stroke-width="1" stroke-dasharray="3.2,1.3" shape-rendering="crispEdges"/>
<path d="M384.5,258.4 H389.1 V269.1 H384.5" fill="none" stroke="#fff" stroke-width="1" stroke-dasharray="2.5,1.5" shape-rendering="crispEdges"/>
<rect x="378.6" y="257.9" width="1" height="11.700000000000045" fill="#fff" />
<rect class="aa" x="312.3" y="255.3" width="40.39999999999998" height="17.69999999999999" rx="2.9" fill="#000"/>
<rect class="aa" x="312.25" y="255.25" width="38.49999999999998" height="15.799999999999988" rx="2.4" fill="#fff" stroke="#000" stroke-width="1.9"/>
<text transform="translate(331.67,267.91) scale(0.77,1)" font-size="13.6" text-anchor="middle" letter-spacing="2.0" fill="#000" stroke="#000" stroke-width="0.15" font-weight="normal">JP34</text>
<polygon class="aa" fill="#000" points="352.10,258.70 355.30,260.46 367.80,262.10 367.80,264.10 355.30,266.06 352.10,267.90"/>
<polygon class="aa" fill="#fff" points="350.90,260.40 355.30,262.06 358.69,263.12 358.69,263.32 355.30,264.46 350.90,266.20"/>
<rect class="aa" x="407.1" y="255.3" width="39.39999999999998" height="17.69999999999999" rx="2.9" fill="#000"/>
<rect class="aa" x="407.05" y="255.25" width="37.49999999999998" height="15.799999999999988" rx="2.4" fill="#fff" stroke="#000" stroke-width="1.9"/>
<text transform="translate(425.97,267.91) scale(0.77,1)" font-size="13.6" text-anchor="middle" letter-spacing="2.0" fill="#000" stroke="#000" stroke-width="0.15" font-weight="normal">JP37</text>
<polygon class="aa" fill="#000" points="406.70,258.70 403.50,260.46 390.40,262.10 390.40,264.10 403.50,266.06 406.70,267.90"/>
<polygon class="aa" fill="#fff" points="407.90,260.40 403.50,262.06 399.85,263.12 399.85,263.32 403.50,264.46 407.90,266.20"/>
<rect class="aa" x="330.7" y="232.6" width="38.30000000000001" height="15.300000000000011" rx="2.9" fill="#000"/>
<rect class="aa" x="330.3" y="232.2" width="37.10000000000001" height="14.100000000000012" rx="2.4" fill="#fff" stroke="#000" stroke-width="1.2"/>
<text transform="translate(348.37,244.01) scale(0.77,1)" font-size="13.6" text-anchor="middle" letter-spacing="2.0" fill="#000" stroke="#000" stroke-width="0.15" font-weight="normal">JP35</text>
<rect x="370.4" y="238.9" width="3.9" height="6.4" fill="#fff" />
<rect class="aa" x="389.9" y="232.6" width="39.60000000000002" height="15.700000000000017" rx="2.9" fill="#000"/>
<rect class="aa" x="389.54999999999995" y="232.25" width="38.300000000000026" height="14.400000000000016" rx="2.4" fill="#fff" stroke="#000" stroke-width="1.3"/>
<text transform="translate(408.87,244.21) scale(0.77,1)" font-size="13.6" text-anchor="middle" letter-spacing="2.0" fill="#000" stroke="#000" stroke-width="0.15" font-weight="normal">JP36</text>
<rect class="aa" x="540.2" y="211.2" width="41.39999999999998" height="16.700000000000017" rx="2.9" fill="#000"/>
<rect class="aa" x="540.1500000000001" y="211.14999999999998" width="39.49999999999998" height="14.800000000000017" rx="2.4" fill="#fff" stroke="#000" stroke-width="1.9"/>
<text transform="translate(560.07,223.31) scale(0.77,1)" font-size="13.6" text-anchor="middle" letter-spacing="2.0" fill="#000" stroke="#000" stroke-width="0.15" font-weight="normal">JP40</text>
<polygon class="aa" fill="#000" points="581.00,214.40 584.20,216.20 595.20,218.00 595.20,220.00 584.20,221.80 581.00,223.60"/>
<polygon class="aa" fill="#fff" points="579.80,216.10 584.20,217.80 586.96,218.90 586.96,219.10 584.20,220.20 579.80,221.90"/>
<rect x="595" y="215.8" width="26.1" height="6.1" fill="#000" />
<rect x="596.1" y="217" width="6.9" height="3.7" fill="#fff" />
<rect x="598" y="218.3" width="3" height="1.2" fill="#000" />
<rect x="607.1" y="217" width="1.7" height="3.7" fill="#fff" />
<rect x="613.2" y="217" width="1.7" height="3.7" fill="#fff" />
<rect x="618.9" y="217" width="1.7" height="3.7" fill="#fff" />
<rect class="aa" x="506.2" y="254" width="41.00000000000006" height="17.80000000000001" rx="2.9" fill="#000"/>
<rect class="aa" x="506.15" y="253.95" width="39.10000000000006" height="15.900000000000011" rx="2.4" fill="#fff" stroke="#000" stroke-width="1.9"/>
<text transform="translate(525.87,266.66) scale(0.77,1)" font-size="13.6" text-anchor="middle" letter-spacing="2.0" fill="#000" stroke="#000" stroke-width="0.15" font-weight="normal">JP39</text>
<polygon class="aa" fill="#000" points="546.60,257.40 549.80,259.13 561.20,260.70 561.20,262.70 549.80,264.73 546.60,266.60"/>
<polygon class="aa" fill="#fff" points="545.40,259.10 549.80,260.73 552.73,261.77 552.73,261.97 549.80,263.13 545.40,264.90"/>
<rect x="561" y="255" width="7" height="13.6" fill="#000" />
<rect x="562.2" y="256.2" width="4.6" height="1.6" fill="#fff" />
<rect x="562.2" y="260.9" width="4.6" height="1.6" fill="#fff" />
<rect x="562.2" y="265.6" width="4.6" height="1.6" fill="#fff" />
<rect x="388.2" y="304.1" width="88.80000000000001" height="41.89999999999998" fill="#000" />
<rect x="411.8" y="317.3" width="40.2" height="14.7" fill="#fff" />
<text transform="translate(432.44,329.50) scale(0.77,1)" font-size="13.6" text-anchor="middle" letter-spacing="1.4" fill="#000" stroke="#000" stroke-width="0.15" font-weight="normal">BIOS</text>
<rect x="482.2" y="304.1" width="125.80000000000001" height="41.89999999999998" fill="#000" />
<line x1="484" y1="344.4" x2="607" y2="344.4" stroke="#fff" stroke-width="1" stroke-dasharray="3.4,2.2" shape-rendering="crispEdges"/>
<rect x="531" y="317.8" width="27.8" height="14.2" fill="#fff" />
<text transform="translate(545.54,329.50) scale(0.77,1)" font-size="13.6" text-anchor="middle" letter-spacing="1.4" fill="#000" stroke="#000" stroke-width="0.15" font-weight="normal">KBD</text>
<rect x="398.2" y="356.9" width="76.80000000000001" height="38.700000000000045" fill="#000" />
<text transform="translate(436.74,374.50) scale(0.93,1)" font-size="12" text-anchor="middle" letter-spacing="0.3" fill="#fff" stroke="#fff" stroke-width="0.3" font-weight="bold">REAL TIME</text>
<text transform="translate(436.74,387.60) scale(0.9,1)" font-size="12" text-anchor="middle" letter-spacing="0.3" fill="#fff" stroke="#fff" stroke-width="0.3" font-weight="bold">CLOCK</text>
<polygon class="aa" fill="#000"  points="386.20,358.60 389.20,360.80 381.00,370.20 378.40,370.20"/>
<rect x="386.3" y="345" width="41.0" height="16.600000000000023" fill="#000" />
<rect x="389.1" y="346.3" width="36.89999999999998" height="13.300000000000011" fill="#fff" />
<text transform="translate(406.97,357.90) scale(0.77,1)" font-size="13.6" text-anchor="middle" letter-spacing="2.0" fill="#000" stroke="#000" stroke-width="0.15" font-weight="normal">JP38</text>
<rect x="376.2" y="369.9" width="6.4" height="13.9" fill="#000" />
<rect x="377.4" y="371.1" width="4" height="11.5" fill="#fff" />
<rect x="378.4" y="374.6" width="3" height="1.2" fill="#000" />
<rect x="378.4" y="378.6" width="3" height="1.2" fill="#000" />
<rect class="aa" x="335" y="351.2" width="41.39999999999998" height="17.600000000000023" rx="2.9" fill="#000"/>
<rect class="aa" x="334.95" y="351.15" width="39.49999999999998" height="15.700000000000022" rx="2.4" fill="#fff" stroke="#000" stroke-width="1.9"/>
<text transform="translate(354.87,363.76) scale(0.77,1)" font-size="13.6" text-anchor="middle" letter-spacing="2.0" fill="#000" stroke="#000" stroke-width="0.15" font-weight="normal">JP33</text>
<polygon class="aa" fill="#000" points="334.60,354.60 331.40,356.46 319.70,358.50 319.70,360.50 331.40,362.06 334.60,363.80"/>
<polygon class="aa" fill="#fff" points="335.80,356.30 331.40,358.06 328.34,359.23 328.34,359.43 331.40,360.46 335.80,362.10"/>
<rect x="305.9" y="356.3" width="14" height="6.2" fill="#000" />
<rect x="307.0" y="357.4" width="2.3" height="4" fill="#fff" />
<rect x="310.7" y="357.4" width="2.3" height="4" fill="#fff" />
<rect x="314.4" y="357.4" width="2.3" height="4" fill="#fff" />
<rect class="aa" x="479.75" y="379.65" width="111.59999999999998" height="22.099999999999977" fill="#fff" stroke="#000" stroke-width="1.3"/>
<rect class="aa" x="481.3" y="381.4" width="108.90000000000003" height="1.4" fill="#000"/>
<rect class="aa" x="481.20" y="381.4" width="6.6" height="4.8" fill="#000"/>
<rect class="aa" x="482.40" y="382.9" width="4.2" height="1.4" rx="0.7" fill="#fff"/>
<rect class="aa" x="481.20" y="388.6" width="6.6" height="2" fill="#000"/>
<rect class="aa" x="485.55" y="392.4" width="6.5" height="6.9" fill="#fff" stroke="#000" stroke-width="1.3"/>
<rect class="aa" x="490.32" y="381.4" width="6.6" height="4.8" fill="#000"/>
<rect class="aa" x="491.52" y="382.9" width="4.2" height="1.4" rx="0.7" fill="#fff"/>
<rect class="aa" x="490.32" y="388.6" width="6.6" height="2" fill="#000"/>
<rect class="aa" x="494.65" y="392.4" width="6.5" height="6.9" fill="#fff" stroke="#000" stroke-width="1.3"/>
<rect class="aa" x="499.44" y="381.4" width="6.6" height="4.8" fill="#000"/>
<rect class="aa" x="500.64" y="382.9" width="4.2" height="1.4" rx="0.7" fill="#fff"/>
<rect class="aa" x="499.44" y="388.6" width="6.6" height="2" fill="#000"/>
<rect class="aa" x="503.75" y="392.4" width="6.5" height="6.9" fill="#fff" stroke="#000" stroke-width="1.3"/>
<rect class="aa" x="508.56" y="381.4" width="6.6" height="4.8" fill="#000"/>
<rect class="aa" x="509.76" y="382.9" width="4.2" height="1.4" rx="0.7" fill="#fff"/>
<rect class="aa" x="508.56" y="388.6" width="6.6" height="2" fill="#000"/>
<rect class="aa" x="512.85" y="392.4" width="6.5" height="6.9" fill="#fff" stroke="#000" stroke-width="1.3"/>
<rect class="aa" x="517.68" y="381.4" width="6.6" height="4.8" fill="#000"/>
<rect class="aa" x="518.88" y="382.9" width="4.2" height="1.4" rx="0.7" fill="#fff"/>
<rect class="aa" x="517.68" y="388.6" width="6.6" height="2" fill="#000"/>
<rect class="aa" x="521.95" y="392.4" width="6.5" height="6.9" fill="#fff" stroke="#000" stroke-width="1.3"/>
<rect class="aa" x="526.80" y="381.4" width="6.6" height="4.8" fill="#000"/>
<rect class="aa" x="528.00" y="382.9" width="4.2" height="1.4" rx="0.7" fill="#fff"/>
<rect class="aa" x="526.80" y="388.6" width="6.6" height="2" fill="#000"/>
<rect class="aa" x="531.05" y="392.4" width="6.5" height="6.9" fill="#fff" stroke="#000" stroke-width="1.3"/>
<rect class="aa" x="535.92" y="381.4" width="6.6" height="4.8" fill="#000"/>
<rect class="aa" x="537.12" y="382.9" width="4.2" height="1.4" rx="0.7" fill="#fff"/>
<rect class="aa" x="535.92" y="388.6" width="6.6" height="2" fill="#000"/>
<rect class="aa" x="540.15" y="392.4" width="6.5" height="6.9" fill="#fff" stroke="#000" stroke-width="1.3"/>
<rect class="aa" x="545.04" y="381.4" width="6.6" height="4.8" fill="#000"/>
<rect class="aa" x="546.24" y="382.9" width="4.2" height="1.4" rx="0.7" fill="#fff"/>
<rect class="aa" x="545.04" y="388.6" width="6.6" height="2" fill="#000"/>
<rect class="aa" x="549.25" y="392.4" width="6.5" height="6.9" fill="#fff" stroke="#000" stroke-width="1.3"/>
<rect class="aa" x="554.16" y="381.4" width="6.6" height="4.8" fill="#000"/>
<rect class="aa" x="555.36" y="382.9" width="4.2" height="1.4" rx="0.7" fill="#fff"/>
<rect class="aa" x="554.16" y="388.6" width="6.6" height="2" fill="#000"/>
<rect class="aa" x="558.35" y="392.4" width="6.5" height="6.9" fill="#fff" stroke="#000" stroke-width="1.3"/>
<rect class="aa" x="563.28" y="381.4" width="6.6" height="4.8" fill="#000"/>
<rect class="aa" x="564.48" y="382.9" width="4.2" height="1.4" rx="0.7" fill="#fff"/>
<rect class="aa" x="563.28" y="388.6" width="6.6" height="2" fill="#000"/>
<rect class="aa" x="567.45" y="392.4" width="6.5" height="6.9" fill="#fff" stroke="#000" stroke-width="1.3"/>
<rect class="aa" x="572.40" y="381.4" width="6.6" height="4.8" fill="#000"/>
<rect class="aa" x="573.60" y="382.9" width="4.2" height="1.4" rx="0.7" fill="#fff"/>
<rect class="aa" x="572.40" y="388.6" width="6.6" height="2" fill="#000"/>
<rect class="aa" x="576.55" y="392.4" width="6.5" height="6.9" fill="#fff" stroke="#000" stroke-width="1.3"/>
<rect class="aa" x="581.52" y="381.4" width="6.6" height="4.8" fill="#000"/>
<rect class="aa" x="582.72" y="382.9" width="4.2" height="1.4" rx="0.7" fill="#fff"/>
<rect class="aa" x="581.52" y="388.6" width="6.6" height="2" fill="#000"/>
<rect class="aa" x="585.65" y="392.4" width="4.1000000000000005" height="6.9" fill="#fff" stroke="#000" stroke-width="1.3"/>
<path class="aa" d="M479.1,393.3 h2.8 M479.1,397.6 h2.8" stroke="#000" stroke-width="1.2" fill="none"/>
<path class="aa" d="M589.2,393.3 h2.8 M589.2,397.6 h2.8" stroke="#000" stroke-width="1.2" fill="none"/>
<path class="aa" d="M481.70000000000005,393.3 v4.3 M589.4,393.3 v4.3" stroke="#000" stroke-width="1.2" fill="none"/>
<path class="aa" d="M599.1,366.2 L621,366.2 L623.8,370.2 L624.4,371.9 L621.9,376.4 L621.6,380.9 L623.8,385.4 L623.8,388.7 L621.6,392.1 L621.9,396 L624.4,400 L624.4,402.8 L621.6,406.5 L599.6,406.5 L597.1,403.4 L597.1,400 L599.1,396 L599.4,392.1 L597.1,388.7 L597.1,385.4 L599.4,380.9 L599.1,376.4 L596.8,372.4 L597.1,369.6 Z" fill="#fff" stroke="#000" stroke-width="1.1" stroke-linejoin="round"/>
<polygon class="" fill="#000"  points="598.10,439.70 621.70,439.70 621.70,435.90 624.90,435.90 624.90,432.70 628.30,432.70 628.30,483.00 624.90,483.00 624.90,479.90 621.70,479.90 621.70,476.70 598.10,476.70 598.10,471.00 595.00,471.00 595.00,446.10 598.10,446.10"/>
<rect x="595.8" y="456.8" width="2.3" height="3.7" fill="#fff" />
<rect class="aa" x="591.7" y="449.6" width="3.4" height="6.100000000000011" fill="#fff" stroke="#000" stroke-width="1.2"/>
<rect class="aa" x="591.7" y="461.1" width="3.4" height="6.699999999999977" fill="#fff" stroke="#000" stroke-width="1.2"/>
<rect class="aa" x="303.70000000000005" y="431.70000000000005" width="276.59999999999997" height="14.099999999999955" fill="#fff" stroke="#000" stroke-width="1.2"/>
<rect x="303.1" y="438.25" width="8.5" height="1" fill="#000" />
<rect x="311.6" y="431.1" width="2.8" height="15.299999999999955" fill="#000" />
<path class="aa" d="M324.2,444.9 V433.5 H315 M322.4,438.70000000000005 H317.3 V441.3 H315.8 V443.8 H322.4 Z" fill="none" stroke="#000" stroke-width="1.1"/>
<rect x="325.7" y="432.90000000000003" width="231.90000000000003" height="11.399999999999954" fill="#000" />
<rect class="aa" x="327.60" y="433.90" width="1.5" height="5.6" fill="#fff"/>
<rect class="aa" x="330.82" y="433.90" width="1.5" height="5.6" fill="#fff"/>
<rect class="aa" x="334.04" y="433.90" width="1.5" height="5.6" fill="#fff"/>
<rect class="aa" x="337.26" y="433.90" width="1.5" height="5.6" fill="#fff"/>
<rect class="aa" x="340.48" y="433.90" width="1.5" height="5.6" fill="#fff"/>
<rect class="aa" x="343.70" y="433.90" width="1.5" height="5.6" fill="#fff"/>
<rect class="aa" x="346.92" y="433.90" width="1.5" height="5.6" fill="#fff"/>
<rect class="aa" x="350.14" y="433.90" width="1.5" height="5.6" fill="#fff"/>
<rect class="aa" x="353.36" y="433.90" width="1.5" height="5.6" fill="#fff"/>
<rect class="aa" x="356.58" y="433.90" width="1.5" height="5.6" fill="#fff"/>
<rect class="aa" x="359.80" y="433.90" width="1.5" height="5.6" fill="#fff"/>
<rect class="aa" x="363.02" y="433.90" width="1.5" height="5.6" fill="#fff"/>
<rect class="aa" x="366.24" y="433.90" width="1.5" height="5.6" fill="#fff"/>
<rect class="aa" x="369.46" y="433.90" width="1.5" height="5.6" fill="#fff"/>
<rect class="aa" x="372.68" y="433.90" width="1.5" height="5.6" fill="#fff"/>
<rect class="aa" x="375.90" y="433.90" width="1.5" height="5.6" fill="#fff"/>
<rect class="aa" x="379.12" y="433.90" width="1.5" height="5.6" fill="#fff"/>
<rect class="aa" x="382.34" y="433.90" width="1.5" height="5.6" fill="#fff"/>
<rect class="aa" x="385.56" y="433.90" width="1.5" height="5.6" fill="#fff"/>
<rect class="aa" x="388.78" y="433.90" width="1.5" height="5.6" fill="#fff"/>
<rect class="aa" x="395.22" y="433.90" width="1.5" height="5.6" fill="#fff"/>
<rect class="aa" x="398.44" y="433.90" width="1.5" height="5.6" fill="#fff"/>
<rect class="aa" x="401.66" y="433.90" width="1.5" height="5.6" fill="#fff"/>
<rect class="aa" x="404.88" y="433.90" width="1.5" height="5.6" fill="#fff"/>
<rect class="aa" x="408.10" y="433.90" width="1.5" height="5.6" fill="#fff"/>
<rect class="aa" x="411.32" y="433.90" width="1.5" height="5.6" fill="#fff"/>
<rect class="aa" x="414.54" y="433.90" width="1.5" height="5.6" fill="#fff"/>
<rect class="aa" x="417.76" y="433.90" width="1.5" height="5.6" fill="#fff"/>
<rect class="aa" x="420.98" y="433.90" width="1.5" height="5.6" fill="#fff"/>
<rect class="aa" x="424.20" y="433.90" width="1.5" height="5.6" fill="#fff"/>
<rect class="aa" x="427.42" y="433.90" width="1.5" height="5.6" fill="#fff"/>
<rect class="aa" x="430.64" y="433.90" width="1.5" height="5.6" fill="#fff"/>
<rect class="aa" x="433.86" y="433.90" width="1.5" height="5.6" fill="#fff"/>
<rect class="aa" x="437.08" y="433.90" width="1.5" height="5.6" fill="#fff"/>
<rect class="aa" x="440.30" y="433.90" width="1.5" height="5.6" fill="#fff"/>
<rect class="aa" x="443.52" y="433.90" width="1.5" height="5.6" fill="#fff"/>
<rect class="aa" x="446.74" y="433.90" width="1.5" height="5.6" fill="#fff"/>
<rect class="aa" x="449.96" y="433.90" width="1.5" height="5.6" fill="#fff"/>
<rect class="aa" x="453.18" y="433.90" width="1.5" height="5.6" fill="#fff"/>
<rect class="aa" x="456.40" y="433.90" width="1.5" height="5.6" fill="#fff"/>
<rect class="aa" x="459.62" y="433.90" width="1.5" height="5.6" fill="#fff"/>
<rect class="aa" x="462.84" y="433.90" width="1.5" height="5.6" fill="#fff"/>
<rect class="aa" x="466.06" y="433.90" width="1.5" height="5.6" fill="#fff"/>
<rect class="aa" x="469.28" y="433.90" width="1.5" height="5.6" fill="#fff"/>
<rect class="aa" x="472.50" y="433.90" width="1.5" height="5.6" fill="#fff"/>
<rect class="aa" x="475.72" y="433.90" width="1.5" height="5.6" fill="#fff"/>
<rect class="aa" x="478.94" y="433.90" width="1.5" height="5.6" fill="#fff"/>
<rect class="aa" x="482.16" y="433.90" width="1.5" height="5.6" fill="#fff"/>
<rect class="aa" x="485.38" y="433.90" width="1.5" height="5.6" fill="#fff"/>
<rect class="aa" x="488.60" y="433.90" width="1.5" height="5.6" fill="#fff"/>
<rect class="aa" x="491.82" y="433.90" width="1.5" height="5.6" fill="#fff"/>
<rect class="aa" x="495.04" y="433.90" width="1.5" height="5.6" fill="#fff"/>
<rect class="aa" x="498.26" y="433.90" width="1.5" height="5.6" fill="#fff"/>
<rect class="aa" x="501.48" y="433.90" width="1.5" height="5.6" fill="#fff"/>
<rect class="aa" x="504.70" y="433.90" width="1.5" height="5.6" fill="#fff"/>
<rect class="aa" x="507.92" y="433.90" width="1.5" height="5.6" fill="#fff"/>
<rect class="aa" x="511.14" y="433.90" width="1.5" height="5.6" fill="#fff"/>
<rect class="aa" x="514.36" y="433.90" width="1.5" height="5.6" fill="#fff"/>
<rect class="aa" x="517.58" y="433.90" width="1.5" height="5.6" fill="#fff"/>
<rect class="aa" x="520.80" y="433.90" width="1.5" height="5.6" fill="#fff"/>
<rect class="aa" x="524.02" y="433.90" width="1.5" height="5.6" fill="#fff"/>
<rect class="aa" x="527.24" y="433.90" width="1.5" height="5.6" fill="#fff"/>
<rect class="aa" x="530.46" y="433.90" width="1.5" height="5.6" fill="#fff"/>
<rect class="aa" x="533.68" y="433.90" width="1.5" height="5.6" fill="#fff"/>
<rect class="aa" x="536.90" y="433.90" width="1.5" height="5.6" fill="#fff"/>
<rect class="aa" x="540.12" y="433.90" width="1.5" height="5.6" fill="#fff"/>
<rect class="aa" x="543.34" y="433.90" width="1.5" height="5.6" fill="#fff"/>
<rect class="aa" x="546.56" y="433.90" width="1.5" height="5.6" fill="#fff"/>
<rect class="aa" x="549.78" y="433.90" width="1.5" height="5.6" fill="#fff"/>
<rect class="aa" x="553.00" y="433.90" width="1.5" height="5.6" fill="#fff"/>
<path class="aa" d="M560.4,444.9 V433.5 H570 M562.2,438.70000000000005 H567.3 V441.3 H568.8 V443.8 H562.2 Z" fill="none" stroke="#000" stroke-width="1.1"/>
<rect x="570.1" y="431.1" width="2.8" height="15.299999999999955" fill="#000" />
<rect x="572.9" y="438.25" width="8" height="1" fill="#000" />
<rect class="aa" x="303.70000000000005" y="448.40000000000003" width="276.59999999999997" height="13.600000000000012" fill="#fff" stroke="#000" stroke-width="1.2"/>
<rect x="303.1" y="454.70000000000005" width="8.5" height="1" fill="#000" />
<rect x="311.6" y="447.8" width="2.8" height="14.800000000000011" fill="#000" />
<path class="aa" d="M324.2,461.1 V450.2 H315 M322.4,455.40000000000003 H317.3 V458.0 H315.8 V460.5 H322.4 Z" fill="none" stroke="#000" stroke-width="1.1"/>
<rect x="325.7" y="449.6" width="231.90000000000003" height="10.900000000000011" fill="#000" />
<rect class="aa" x="327.60" y="450.60" width="1.5" height="5.6" fill="#fff"/>
<rect class="aa" x="330.82" y="450.60" width="1.5" height="5.6" fill="#fff"/>
<rect class="aa" x="334.04" y="450.60" width="1.5" height="5.6" fill="#fff"/>
<rect class="aa" x="337.26" y="450.60" width="1.5" height="5.6" fill="#fff"/>
<rect class="aa" x="340.48" y="450.60" width="1.5" height="5.6" fill="#fff"/>
<rect class="aa" x="343.70" y="450.60" width="1.5" height="5.6" fill="#fff"/>
<rect class="aa" x="346.92" y="450.60" width="1.5" height="5.6" fill="#fff"/>
<rect class="aa" x="350.14" y="450.60" width="1.5" height="5.6" fill="#fff"/>
<rect class="aa" x="353.36" y="450.60" width="1.5" height="5.6" fill="#fff"/>
<rect class="aa" x="356.58" y="450.60" width="1.5" height="5.6" fill="#fff"/>
<rect class="aa" x="359.80" y="450.60" width="1.5" height="5.6" fill="#fff"/>
<rect class="aa" x="363.02" y="450.60" width="1.5" height="5.6" fill="#fff"/>
<rect class="aa" x="366.24" y="450.60" width="1.5" height="5.6" fill="#fff"/>
<rect class="aa" x="369.46" y="450.60" width="1.5" height="5.6" fill="#fff"/>
<rect class="aa" x="372.68" y="450.60" width="1.5" height="5.6" fill="#fff"/>
<rect class="aa" x="375.90" y="450.60" width="1.5" height="5.6" fill="#fff"/>
<rect class="aa" x="379.12" y="450.60" width="1.5" height="5.6" fill="#fff"/>
<rect class="aa" x="382.34" y="450.60" width="1.5" height="5.6" fill="#fff"/>
<rect class="aa" x="385.56" y="450.60" width="1.5" height="5.6" fill="#fff"/>
<rect class="aa" x="388.78" y="450.60" width="1.5" height="5.6" fill="#fff"/>
<rect class="aa" x="395.22" y="450.60" width="1.5" height="5.6" fill="#fff"/>
<rect class="aa" x="398.44" y="450.60" width="1.5" height="5.6" fill="#fff"/>
<rect class="aa" x="401.66" y="450.60" width="1.5" height="5.6" fill="#fff"/>
<rect class="aa" x="404.88" y="450.60" width="1.5" height="5.6" fill="#fff"/>
<rect class="aa" x="408.10" y="450.60" width="1.5" height="5.6" fill="#fff"/>
<rect class="aa" x="411.32" y="450.60" width="1.5" height="5.6" fill="#fff"/>
<rect class="aa" x="414.54" y="450.60" width="1.5" height="5.6" fill="#fff"/>
<rect class="aa" x="417.76" y="450.60" width="1.5" height="5.6" fill="#fff"/>
<rect class="aa" x="420.98" y="450.60" width="1.5" height="5.6" fill="#fff"/>
<rect class="aa" x="424.20" y="450.60" width="1.5" height="5.6" fill="#fff"/>
<rect class="aa" x="427.42" y="450.60" width="1.5" height="5.6" fill="#fff"/>
<rect class="aa" x="430.64" y="450.60" width="1.5" height="5.6" fill="#fff"/>
<rect class="aa" x="433.86" y="450.60" width="1.5" height="5.6" fill="#fff"/>
<rect class="aa" x="437.08" y="450.60" width="1.5" height="5.6" fill="#fff"/>
<rect class="aa" x="440.30" y="450.60" width="1.5" height="5.6" fill="#fff"/>
<rect class="aa" x="443.52" y="450.60" width="1.5" height="5.6" fill="#fff"/>
<rect class="aa" x="446.74" y="450.60" width="1.5" height="5.6" fill="#fff"/>
<rect class="aa" x="449.96" y="450.60" width="1.5" height="5.6" fill="#fff"/>
<rect class="aa" x="453.18" y="450.60" width="1.5" height="5.6" fill="#fff"/>
<rect class="aa" x="456.40" y="450.60" width="1.5" height="5.6" fill="#fff"/>
<rect class="aa" x="459.62" y="450.60" width="1.5" height="5.6" fill="#fff"/>
<rect class="aa" x="462.84" y="450.60" width="1.5" height="5.6" fill="#fff"/>
<rect class="aa" x="466.06" y="450.60" width="1.5" height="5.6" fill="#fff"/>
<rect class="aa" x="469.28" y="450.60" width="1.5" height="5.6" fill="#fff"/>
<rect class="aa" x="472.50" y="450.60" width="1.5" height="5.6" fill="#fff"/>
<rect class="aa" x="475.72" y="450.60" width="1.5" height="5.6" fill="#fff"/>
<rect class="aa" x="478.94" y="450.60" width="1.5" height="5.6" fill="#fff"/>
<rect class="aa" x="482.16" y="450.60" width="1.5" height="5.6" fill="#fff"/>
<rect class="aa" x="485.38" y="450.60" width="1.5" height="5.6" fill="#fff"/>
<rect class="aa" x="488.60" y="450.60" width="1.5" height="5.6" fill="#fff"/>
<rect class="aa" x="491.82" y="450.60" width="1.5" height="5.6" fill="#fff"/>
<rect class="aa" x="495.04" y="450.60" width="1.5" height="5.6" fill="#fff"/>
<rect class="aa" x="498.26" y="450.60" width="1.5" height="5.6" fill="#fff"/>
<rect class="aa" x="501.48" y="450.60" width="1.5" height="5.6" fill="#fff"/>
<rect class="aa" x="504.70" y="450.60" width="1.5" height="5.6" fill="#fff"/>
<rect class="aa" x="507.92" y="450.60" width="1.5" height="5.6" fill="#fff"/>
<rect class="aa" x="511.14" y="450.60" width="1.5" height="5.6" fill="#fff"/>
<rect class="aa" x="514.36" y="450.60" width="1.5" height="5.6" fill="#fff"/>
<rect class="aa" x="517.58" y="450.60" width="1.5" height="5.6" fill="#fff"/>
<rect class="aa" x="520.80" y="450.60" width="1.5" height="5.6" fill="#fff"/>
<rect class="aa" x="524.02" y="450.60" width="1.5" height="5.6" fill="#fff"/>
<rect class="aa" x="527.24" y="450.60" width="1.5" height="5.6" fill="#fff"/>
<rect class="aa" x="530.46" y="450.60" width="1.5" height="5.6" fill="#fff"/>
<rect class="aa" x="533.68" y="450.60" width="1.5" height="5.6" fill="#fff"/>
<rect class="aa" x="536.90" y="450.60" width="1.5" height="5.6" fill="#fff"/>
<rect class="aa" x="540.12" y="450.60" width="1.5" height="5.6" fill="#fff"/>
<rect class="aa" x="543.34" y="450.60" width="1.5" height="5.6" fill="#fff"/>
<rect class="aa" x="546.56" y="450.60" width="1.5" height="5.6" fill="#fff"/>
<rect class="aa" x="549.78" y="450.60" width="1.5" height="5.6" fill="#fff"/>
<rect class="aa" x="553.00" y="450.60" width="1.5" height="5.6" fill="#fff"/>
<path class="aa" d="M560.4,461.1 V450.2 H570 M562.2,455.40000000000003 H567.3 V458.0 H568.8 V460.5 H562.2 Z" fill="none" stroke="#000" stroke-width="1.1"/>
<rect x="570.1" y="447.8" width="2.8" height="14.800000000000011" fill="#000" />
<rect x="572.9" y="454.70000000000005" width="8" height="1" fill="#000" />
<rect class="aa" x="303.70000000000005" y="465.0" width="276.59999999999997" height="13.900000000000023" fill="#fff" stroke="#000" stroke-width="1.2"/>
<rect x="303.1" y="471.45" width="8.5" height="1" fill="#000" />
<rect x="311.6" y="464.4" width="2.8" height="15.100000000000023" fill="#000" />
<path class="aa" d="M324.2,478.0 V466.79999999999995 H315 M322.4,472.0 H317.3 V474.59999999999997 H315.8 V477.09999999999997 H322.4 Z" fill="none" stroke="#000" stroke-width="1.1"/>
<rect x="325.7" y="466.2" width="231.90000000000003" height="11.200000000000022" fill="#000" />
<rect class="aa" x="327.60" y="467.20" width="1.5" height="5.6" fill="#fff"/>
<rect class="aa" x="330.82" y="467.20" width="1.5" height="5.6" fill="#fff"/>
<rect class="aa" x="334.04" y="467.20" width="1.5" height="5.6" fill="#fff"/>
<rect class="aa" x="337.26" y="467.20" width="1.5" height="5.6" fill="#fff"/>
<rect class="aa" x="340.48" y="467.20" width="1.5" height="5.6" fill="#fff"/>
<rect class="aa" x="343.70" y="467.20" width="1.5" height="5.6" fill="#fff"/>
<rect class="aa" x="346.92" y="467.20" width="1.5" height="5.6" fill="#fff"/>
<rect class="aa" x="350.14" y="467.20" width="1.5" height="5.6" fill="#fff"/>
<rect class="aa" x="353.36" y="467.20" width="1.5" height="5.6" fill="#fff"/>
<rect class="aa" x="356.58" y="467.20" width="1.5" height="5.6" fill="#fff"/>
<rect class="aa" x="359.80" y="467.20" width="1.5" height="5.6" fill="#fff"/>
<rect class="aa" x="363.02" y="467.20" width="1.5" height="5.6" fill="#fff"/>
<rect class="aa" x="366.24" y="467.20" width="1.5" height="5.6" fill="#fff"/>
<rect class="aa" x="369.46" y="467.20" width="1.5" height="5.6" fill="#fff"/>
<rect class="aa" x="372.68" y="467.20" width="1.5" height="5.6" fill="#fff"/>
<rect class="aa" x="375.90" y="467.20" width="1.5" height="5.6" fill="#fff"/>
<rect class="aa" x="379.12" y="467.20" width="1.5" height="5.6" fill="#fff"/>
<rect class="aa" x="382.34" y="467.20" width="1.5" height="5.6" fill="#fff"/>
<rect class="aa" x="385.56" y="467.20" width="1.5" height="5.6" fill="#fff"/>
<rect class="aa" x="388.78" y="467.20" width="1.5" height="5.6" fill="#fff"/>
<rect class="aa" x="395.22" y="467.20" width="1.5" height="5.6" fill="#fff"/>
<rect class="aa" x="398.44" y="467.20" width="1.5" height="5.6" fill="#fff"/>
<rect class="aa" x="401.66" y="467.20" width="1.5" height="5.6" fill="#fff"/>
<rect class="aa" x="404.88" y="467.20" width="1.5" height="5.6" fill="#fff"/>
<rect class="aa" x="408.10" y="467.20" width="1.5" height="5.6" fill="#fff"/>
<rect class="aa" x="411.32" y="467.20" width="1.5" height="5.6" fill="#fff"/>
<rect class="aa" x="414.54" y="467.20" width="1.5" height="5.6" fill="#fff"/>
<rect class="aa" x="417.76" y="467.20" width="1.5" height="5.6" fill="#fff"/>
<rect class="aa" x="420.98" y="467.20" width="1.5" height="5.6" fill="#fff"/>
<rect class="aa" x="424.20" y="467.20" width="1.5" height="5.6" fill="#fff"/>
<rect class="aa" x="427.42" y="467.20" width="1.5" height="5.6" fill="#fff"/>
<rect class="aa" x="430.64" y="467.20" width="1.5" height="5.6" fill="#fff"/>
<rect class="aa" x="433.86" y="467.20" width="1.5" height="5.6" fill="#fff"/>
<rect class="aa" x="437.08" y="467.20" width="1.5" height="5.6" fill="#fff"/>
<rect class="aa" x="440.30" y="467.20" width="1.5" height="5.6" fill="#fff"/>
<rect class="aa" x="443.52" y="467.20" width="1.5" height="5.6" fill="#fff"/>
<rect class="aa" x="446.74" y="467.20" width="1.5" height="5.6" fill="#fff"/>
<rect class="aa" x="449.96" y="467.20" width="1.5" height="5.6" fill="#fff"/>
<rect class="aa" x="453.18" y="467.20" width="1.5" height="5.6" fill="#fff"/>
<rect class="aa" x="456.40" y="467.20" width="1.5" height="5.6" fill="#fff"/>
<rect class="aa" x="459.62" y="467.20" width="1.5" height="5.6" fill="#fff"/>
<rect class="aa" x="462.84" y="467.20" width="1.5" height="5.6" fill="#fff"/>
<rect class="aa" x="466.06" y="467.20" width="1.5" height="5.6" fill="#fff"/>
<rect class="aa" x="469.28" y="467.20" width="1.5" height="5.6" fill="#fff"/>
<rect class="aa" x="472.50" y="467.20" width="1.5" height="5.6" fill="#fff"/>
<rect class="aa" x="475.72" y="467.20" width="1.5" height="5.6" fill="#fff"/>
<rect class="aa" x="478.94" y="467.20" width="1.5" height="5.6" fill="#fff"/>
<rect class="aa" x="482.16" y="467.20" width="1.5" height="5.6" fill="#fff"/>
<rect class="aa" x="485.38" y="467.20" width="1.5" height="5.6" fill="#fff"/>
<rect class="aa" x="488.60" y="467.20" width="1.5" height="5.6" fill="#fff"/>
<rect class="aa" x="491.82" y="467.20" width="1.5" height="5.6" fill="#fff"/>
<rect class="aa" x="495.04" y="467.20" width="1.5" height="5.6" fill="#fff"/>
<rect class="aa" x="498.26" y="467.20" width="1.5" height="5.6" fill="#fff"/>
<rect class="aa" x="501.48" y="467.20" width="1.5" height="5.6" fill="#fff"/>
<rect class="aa" x="504.70" y="467.20" width="1.5" height="5.6" fill="#fff"/>
<rect class="aa" x="507.92" y="467.20" width="1.5" height="5.6" fill="#fff"/>
<rect class="aa" x="511.14" y="467.20" width="1.5" height="5.6" fill="#fff"/>
<rect class="aa" x="514.36" y="467.20" width="1.5" height="5.6" fill="#fff"/>
<rect class="aa" x="517.58" y="467.20" width="1.5" height="5.6" fill="#fff"/>
<rect class="aa" x="520.80" y="467.20" width="1.5" height="5.6" fill="#fff"/>
<rect class="aa" x="524.02" y="467.20" width="1.5" height="5.6" fill="#fff"/>
<rect class="aa" x="527.24" y="467.20" width="1.5" height="5.6" fill="#fff"/>
<rect class="aa" x="530.46" y="467.20" width="1.5" height="5.6" fill="#fff"/>
<rect class="aa" x="533.68" y="467.20" width="1.5" height="5.6" fill="#fff"/>
<rect class="aa" x="536.90" y="467.20" width="1.5" height="5.6" fill="#fff"/>
<rect class="aa" x="540.12" y="467.20" width="1.5" height="5.6" fill="#fff"/>
<rect class="aa" x="543.34" y="467.20" width="1.5" height="5.6" fill="#fff"/>
<rect class="aa" x="546.56" y="467.20" width="1.5" height="5.6" fill="#fff"/>
<rect class="aa" x="549.78" y="467.20" width="1.5" height="5.6" fill="#fff"/>
<rect class="aa" x="553.00" y="467.20" width="1.5" height="5.6" fill="#fff"/>
<path class="aa" d="M560.4,478.0 V466.79999999999995 H570 M562.2,472.0 H567.3 V474.59999999999997 H568.8 V477.09999999999997 H562.2 Z" fill="none" stroke="#000" stroke-width="1.1"/>
<rect x="570.1" y="464.4" width="2.8" height="15.100000000000023" fill="#000" />
<rect x="572.9" y="471.45" width="8" height="1" fill="#000" />
<rect class="aa" x="303.70000000000005" y="481.90000000000003" width="276.59999999999997" height="14.100000000000012" fill="#fff" stroke="#000" stroke-width="1.2"/>
<rect x="303.1" y="488.45000000000005" width="8.5" height="1" fill="#000" />
<rect x="311.6" y="481.3" width="2.8" height="15.300000000000011" fill="#000" />
<path class="aa" d="M324.2,495.1 V483.7 H315 M322.4,488.90000000000003 H317.3 V491.5 H315.8 V494.0 H322.4 Z" fill="none" stroke="#000" stroke-width="1.1"/>
<rect x="325.7" y="483.1" width="231.90000000000003" height="11.400000000000011" fill="#000" />
<rect class="aa" x="327.60" y="484.10" width="1.5" height="5.6" fill="#fff"/>
<rect class="aa" x="330.82" y="484.10" width="1.5" height="5.6" fill="#fff"/>
<rect class="aa" x="334.04" y="484.10" width="1.5" height="5.6" fill="#fff"/>
<rect class="aa" x="337.26" y="484.10" width="1.5" height="5.6" fill="#fff"/>
<rect class="aa" x="340.48" y="484.10" width="1.5" height="5.6" fill="#fff"/>
<rect class="aa" x="343.70" y="484.10" width="1.5" height="5.6" fill="#fff"/>
<rect class="aa" x="346.92" y="484.10" width="1.5" height="5.6" fill="#fff"/>
<rect class="aa" x="350.14" y="484.10" width="1.5" height="5.6" fill="#fff"/>
<rect class="aa" x="353.36" y="484.10" width="1.5" height="5.6" fill="#fff"/>
<rect class="aa" x="356.58" y="484.10" width="1.5" height="5.6" fill="#fff"/>
<rect class="aa" x="359.80" y="484.10" width="1.5" height="5.6" fill="#fff"/>
<rect class="aa" x="363.02" y="484.10" width="1.5" height="5.6" fill="#fff"/>
<rect class="aa" x="366.24" y="484.10" width="1.5" height="5.6" fill="#fff"/>
<rect class="aa" x="369.46" y="484.10" width="1.5" height="5.6" fill="#fff"/>
<rect class="aa" x="372.68" y="484.10" width="1.5" height="5.6" fill="#fff"/>
<rect class="aa" x="375.90" y="484.10" width="1.5" height="5.6" fill="#fff"/>
<rect class="aa" x="379.12" y="484.10" width="1.5" height="5.6" fill="#fff"/>
<rect class="aa" x="382.34" y="484.10" width="1.5" height="5.6" fill="#fff"/>
<rect class="aa" x="385.56" y="484.10" width="1.5" height="5.6" fill="#fff"/>
<rect class="aa" x="388.78" y="484.10" width="1.5" height="5.6" fill="#fff"/>
<rect class="aa" x="395.22" y="484.10" width="1.5" height="5.6" fill="#fff"/>
<rect class="aa" x="398.44" y="484.10" width="1.5" height="5.6" fill="#fff"/>
<rect class="aa" x="401.66" y="484.10" width="1.5" height="5.6" fill="#fff"/>
<rect class="aa" x="404.88" y="484.10" width="1.5" height="5.6" fill="#fff"/>
<rect class="aa" x="408.10" y="484.10" width="1.5" height="5.6" fill="#fff"/>
<rect class="aa" x="411.32" y="484.10" width="1.5" height="5.6" fill="#fff"/>
<rect class="aa" x="414.54" y="484.10" width="1.5" height="5.6" fill="#fff"/>
<rect class="aa" x="417.76" y="484.10" width="1.5" height="5.6" fill="#fff"/>
<rect class="aa" x="420.98" y="484.10" width="1.5" height="5.6" fill="#fff"/>
<rect class="aa" x="424.20" y="484.10" width="1.5" height="5.6" fill="#fff"/>
<rect class="aa" x="427.42" y="484.10" width="1.5" height="5.6" fill="#fff"/>
<rect class="aa" x="430.64" y="484.10" width="1.5" height="5.6" fill="#fff"/>
<rect class="aa" x="433.86" y="484.10" width="1.5" height="5.6" fill="#fff"/>
<rect class="aa" x="437.08" y="484.10" width="1.5" height="5.6" fill="#fff"/>
<rect class="aa" x="440.30" y="484.10" width="1.5" height="5.6" fill="#fff"/>
<rect class="aa" x="443.52" y="484.10" width="1.5" height="5.6" fill="#fff"/>
<rect class="aa" x="446.74" y="484.10" width="1.5" height="5.6" fill="#fff"/>
<rect class="aa" x="449.96" y="484.10" width="1.5" height="5.6" fill="#fff"/>
<rect class="aa" x="453.18" y="484.10" width="1.5" height="5.6" fill="#fff"/>
<rect class="aa" x="456.40" y="484.10" width="1.5" height="5.6" fill="#fff"/>
<rect class="aa" x="459.62" y="484.10" width="1.5" height="5.6" fill="#fff"/>
<rect class="aa" x="462.84" y="484.10" width="1.5" height="5.6" fill="#fff"/>
<rect class="aa" x="466.06" y="484.10" width="1.5" height="5.6" fill="#fff"/>
<rect class="aa" x="469.28" y="484.10" width="1.5" height="5.6" fill="#fff"/>
<rect class="aa" x="472.50" y="484.10" width="1.5" height="5.6" fill="#fff"/>
<rect class="aa" x="475.72" y="484.10" width="1.5" height="5.6" fill="#fff"/>
<rect class="aa" x="478.94" y="484.10" width="1.5" height="5.6" fill="#fff"/>
<rect class="aa" x="482.16" y="484.10" width="1.5" height="5.6" fill="#fff"/>
<rect class="aa" x="485.38" y="484.10" width="1.5" height="5.6" fill="#fff"/>
<rect class="aa" x="488.60" y="484.10" width="1.5" height="5.6" fill="#fff"/>
<rect class="aa" x="491.82" y="484.10" width="1.5" height="5.6" fill="#fff"/>
<rect class="aa" x="495.04" y="484.10" width="1.5" height="5.6" fill="#fff"/>
<rect class="aa" x="498.26" y="484.10" width="1.5" height="5.6" fill="#fff"/>
<rect class="aa" x="501.48" y="484.10" width="1.5" height="5.6" fill="#fff"/>
<rect class="aa" x="504.70" y="484.10" width="1.5" height="5.6" fill="#fff"/>
<rect class="aa" x="507.92" y="484.10" width="1.5" height="5.6" fill="#fff"/>
<rect class="aa" x="511.14" y="484.10" width="1.5" height="5.6" fill="#fff"/>
<rect class="aa" x="514.36" y="484.10" width="1.5" height="5.6" fill="#fff"/>
<rect class="aa" x="517.58" y="484.10" width="1.5" height="5.6" fill="#fff"/>
<rect class="aa" x="520.80" y="484.10" width="1.5" height="5.6" fill="#fff"/>
<rect class="aa" x="524.02" y="484.10" width="1.5" height="5.6" fill="#fff"/>
<rect class="aa" x="527.24" y="484.10" width="1.5" height="5.6" fill="#fff"/>
<rect class="aa" x="530.46" y="484.10" width="1.5" height="5.6" fill="#fff"/>
<rect class="aa" x="533.68" y="484.10" width="1.5" height="5.6" fill="#fff"/>
<rect class="aa" x="536.90" y="484.10" width="1.5" height="5.6" fill="#fff"/>
<rect class="aa" x="540.12" y="484.10" width="1.5" height="5.6" fill="#fff"/>
<rect class="aa" x="543.34" y="484.10" width="1.5" height="5.6" fill="#fff"/>
<rect class="aa" x="546.56" y="484.10" width="1.5" height="5.6" fill="#fff"/>
<rect class="aa" x="549.78" y="484.10" width="1.5" height="5.6" fill="#fff"/>
<rect class="aa" x="553.00" y="484.10" width="1.5" height="5.6" fill="#fff"/>
<path class="aa" d="M560.4,495.1 V483.7 H570 M562.2,488.90000000000003 H567.3 V491.5 H568.8 V494.0 H562.2 Z" fill="none" stroke="#000" stroke-width="1.1"/>
<rect x="570.1" y="481.3" width="2.8" height="15.300000000000011" fill="#000" />
<rect x="572.9" y="488.45000000000005" width="8" height="1" fill="#000" />
<rect class="aa" x="411.9" y="427.6" width="60.1" height="71.7" rx="4.5" fill="#000"/>
<rect class="aa" x="414.6" y="430.4" width="55.5" height="14.300000000000011" rx="2.2" fill="#fff"/>
<text transform="translate(443.42,442.30) scale(0.77,1)" font-size="13.6" text-anchor="middle" letter-spacing="2.4" fill="#000" stroke="#000" stroke-width="0.15" font-weight="normal">BANK 0</text>
<rect class="aa" x="414.6" y="448.7" width="55.5" height="13.0" rx="2.2" fill="#fff"/>
<text transform="translate(443.42,459.50) scale(0.77,1)" font-size="13.6" text-anchor="middle" letter-spacing="2.4" fill="#000" stroke="#000" stroke-width="0.15" font-weight="normal">BANK 1</text>
<rect class="aa" x="414.6" y="465.4" width="55.5" height="13.200000000000045" rx="2.2" fill="#fff"/>
<text transform="translate(443.42,477.30) scale(0.77,1)" font-size="13.6" text-anchor="middle" letter-spacing="2.4" fill="#000" stroke="#000" stroke-width="0.15" font-weight="normal">BANK 2</text>
<rect class="aa" x="414.6" y="483.4" width="55.5" height="12.0" rx="2.2" fill="#fff"/>
<text transform="translate(443.42,494.50) scale(0.77,1)" font-size="13.6" text-anchor="middle" letter-spacing="2.4" fill="#000" stroke="#000" stroke-width="0.15" font-weight="normal">BANK 3</text>
</svg>
</body></html>
